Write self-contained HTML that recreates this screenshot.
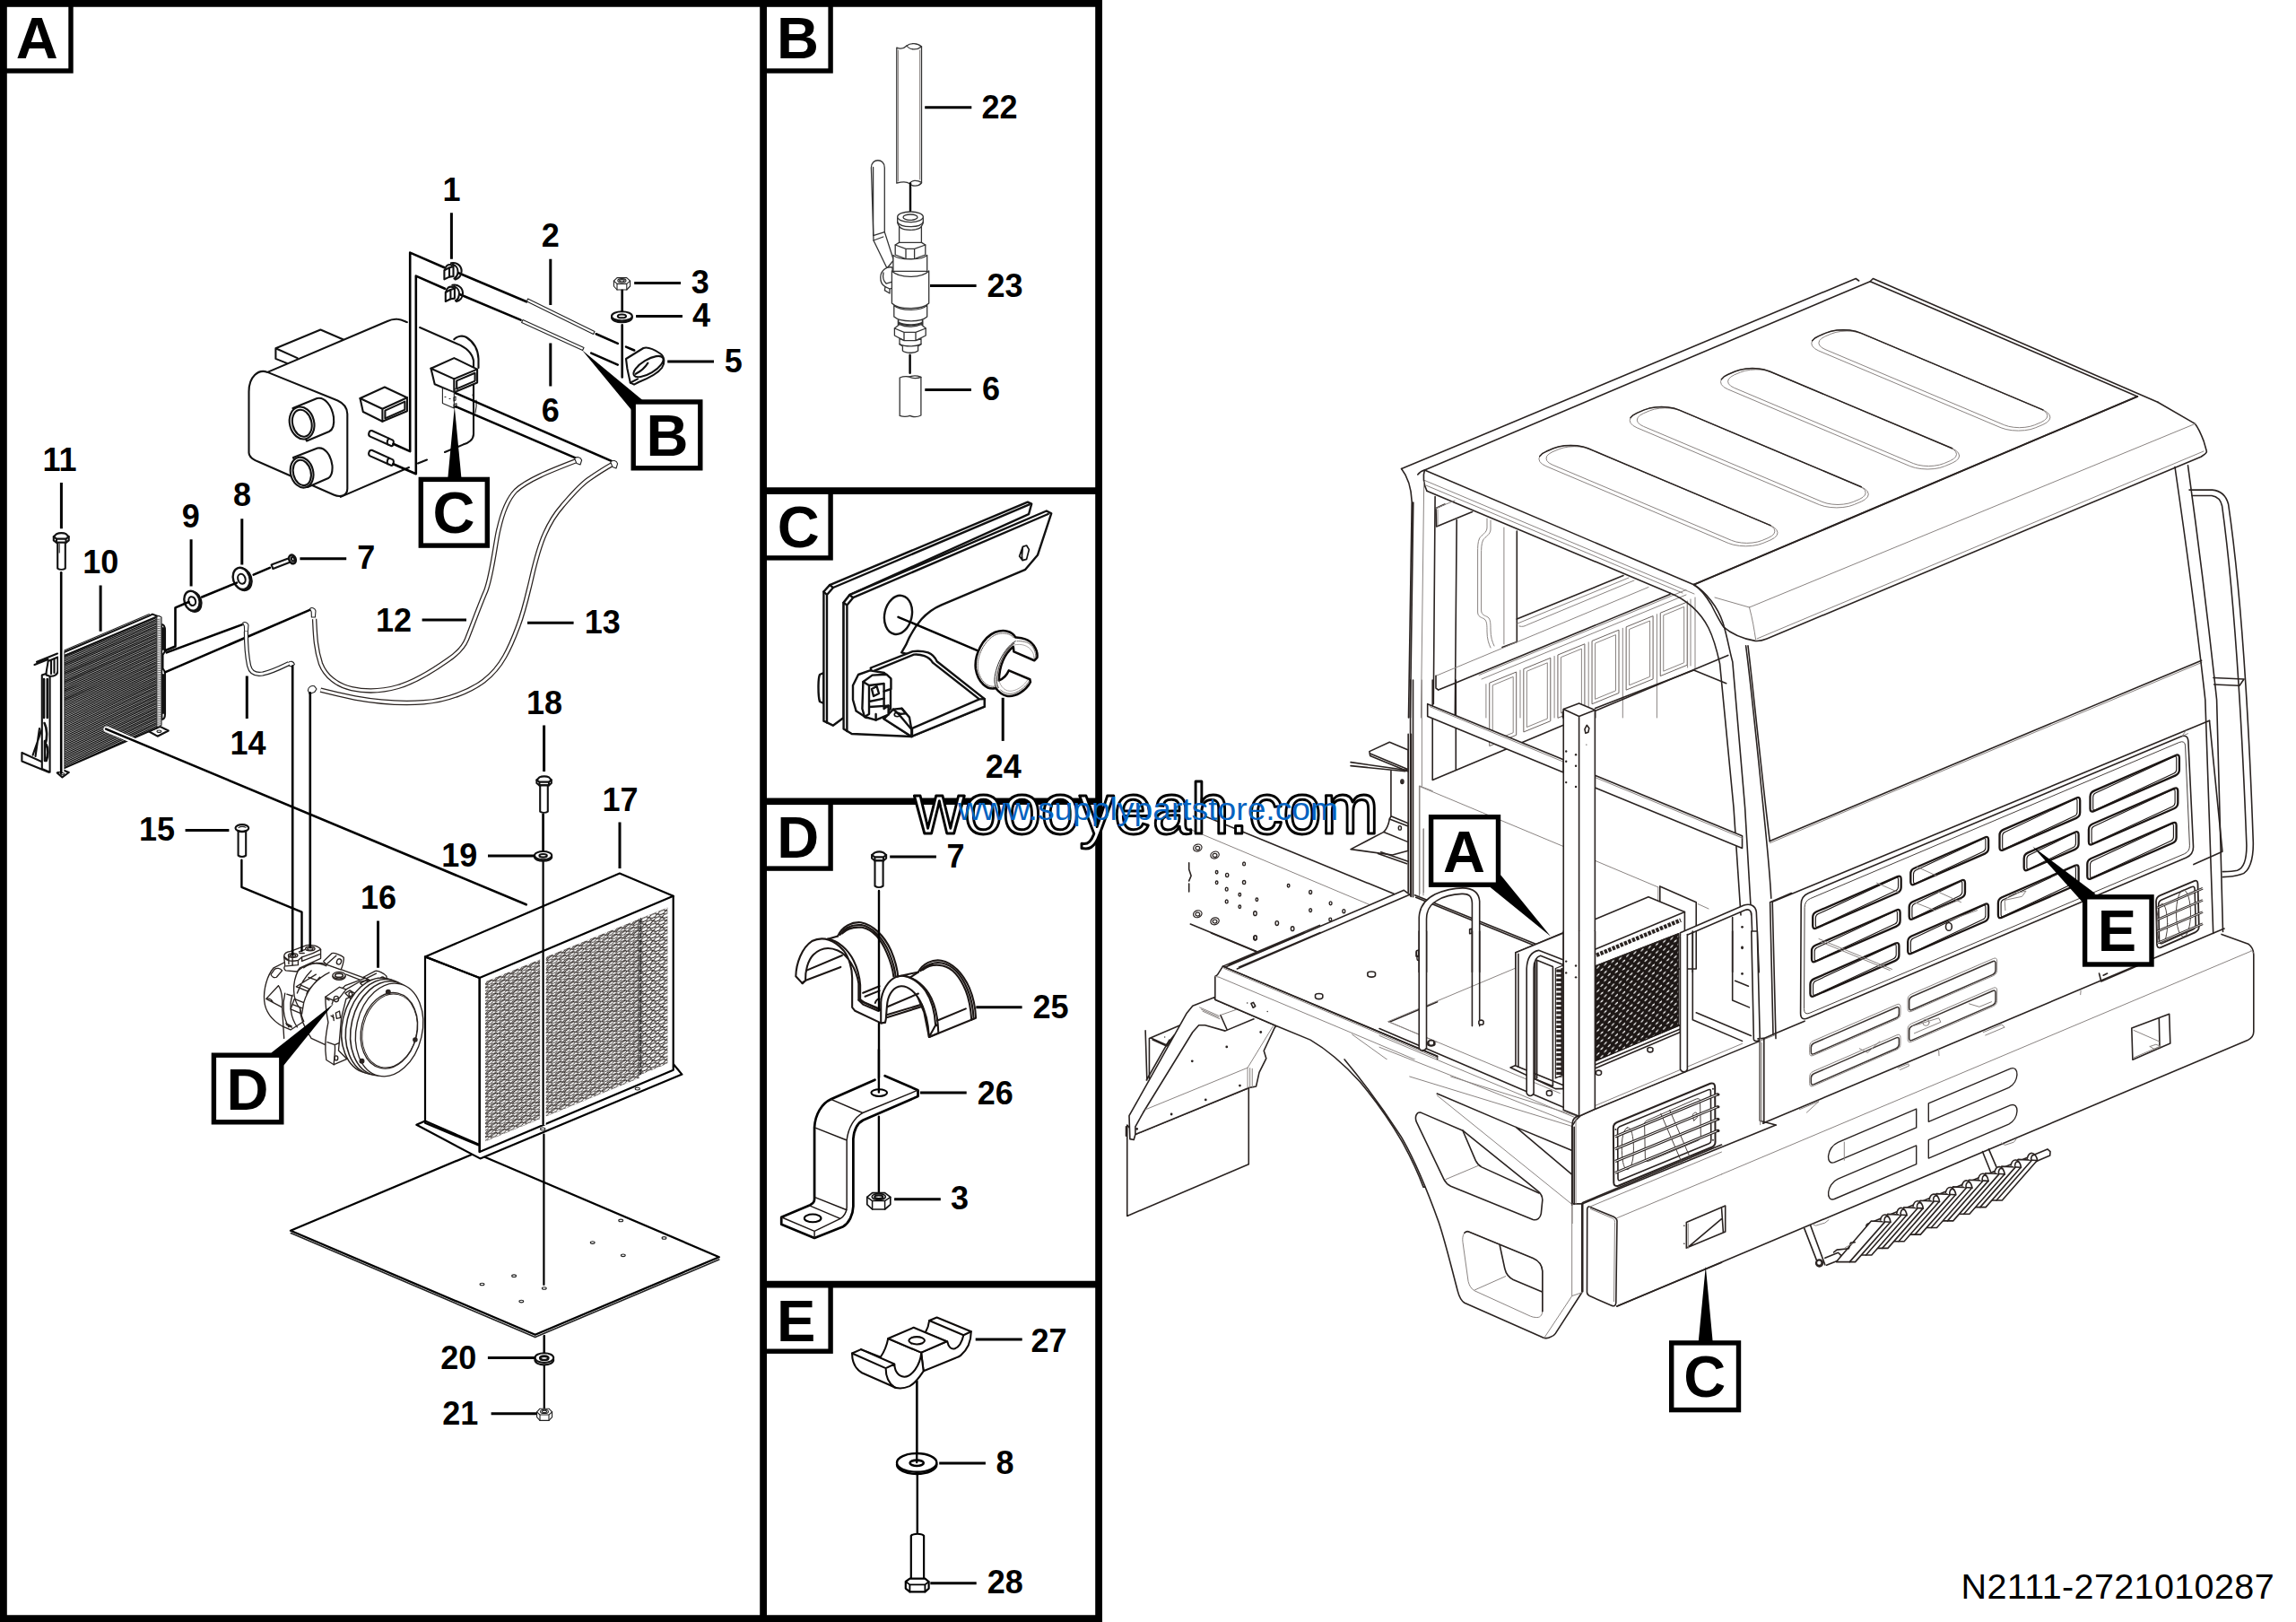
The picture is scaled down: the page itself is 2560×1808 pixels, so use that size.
<!DOCTYPE html>
<html lang="en"><head><meta charset="utf-8"><title>N2111-2721010287</title>
<style>
html,body{margin:0;padding:0;background:#fff;}
body{width:2560px;height:1808px;overflow:hidden;}
svg{display:block;font-family:"Liberation Sans",Arial,sans-serif;}
.k{stroke:#000;stroke-width:3;fill:none;stroke-linecap:butt}
.m{stroke:#111;stroke-width:2.1;fill:none;stroke-linejoin:round;stroke-linecap:round}
.mw{stroke:#111;stroke-width:2.1;fill:#fff;stroke-linejoin:round;stroke-linecap:round}
.n{stroke:#222;stroke-width:1.1;fill:none;stroke-linejoin:round;stroke-linecap:round}
.nw{stroke:#222;stroke-width:1.1;fill:#fff;stroke-linejoin:round;stroke-linecap:round}
.h{stroke:#333;stroke-width:1.3;fill:none;stroke-linejoin:round;stroke-linecap:round}
.hw{stroke:#333;stroke-width:1.3;fill:#fff;stroke-linejoin:round;stroke-linecap:round}
.g{stroke:#8a8482;stroke-width:1;fill:none;stroke-linejoin:round;stroke-linecap:round}
.gw{stroke:#8a8482;stroke-width:1;fill:#fff;stroke-linejoin:round;stroke-linecap:round}
.d{stroke:#2a2321;stroke-width:1.6;fill:none;stroke-linejoin:round;stroke-linecap:round}
.dw{stroke:#2a2321;stroke-width:1.6;fill:#fff;stroke-linejoin:round;stroke-linecap:round}
.b{stroke:#000;stroke-width:2.6;fill:none;stroke-linejoin:round;stroke-linecap:round}
.bw{stroke:#000;stroke-width:2.6;fill:#fff;stroke-linejoin:round;stroke-linecap:round}
.num{font-weight:700;font-size:36px;text-anchor:middle;fill:#000}
.let{font-weight:700;font-size:65px;text-anchor:middle;fill:#000}
.box{fill:#fff;stroke:#000;stroke-width:5.4}
.blk{fill:#000;stroke:none}
#panelC .m,#panelC .mw{stroke-width:2.4px}
</style></head><body>
<svg xmlns="http://www.w3.org/2000/svg" width="2560" height="1808" viewBox="0 0 2560 1808">
<rect width="2560" height="1808" fill="#fff"/>
<!-- 00_frame.svgf -->
<g id="frame">
<path class="blk" fill-rule="evenodd" d="M0 0H1229V1808H0Z M7.8 7.8V1800.3H847.2V7.8Z M855 7.8V543.2H1221.2V7.8Z M855 550.9V889.4H1221.2V550.9Z M855 897.1V1427.8H1221.2V897.1Z M855 1435.5V1800.3H1221.2V1435.5Z"/>
<rect class="box" x="5.1" y="5.1" width="73.9" height="73.9"/>
<rect class="box" x="852.3" y="5.1" width="73.8" height="73.9"/>
<rect class="box" x="852.3" y="548.2" width="73.8" height="73.7"/>
<rect class="box" x="852.3" y="894.4" width="73.8" height="73.7"/>
<rect class="box" x="852.3" y="1432.8" width="73.8" height="73.4"/>
<text class="let" x="41.2" y="65">A</text>
<text class="let" x="889.6" y="65">B</text>
<text class="let" x="890.2" y="609.8">C</text>
<text class="let" x="889.8" y="956.2">D</text>
<text class="let" x="887.6" y="1494.9">E</text>
</g>

<!-- 10_A_hvac.svgf -->
<g id="A_hvac">
<!-- back round duct -->
<path class="m" d="M506.3 378.3C510 374.5 516 373.5 520 376C528 381 533 390 533.5 400V410"/>
<!-- body top surface / right side -->
<path class="m" d="M298.3 414.9L431.4 358.3C436 356 440 355.5 443.1 355.8C447 356 450 357.5 453.9 359.1"/>
<path class="m" d="M468.1 365L509.7 383.3C519 387 526 392 528 402V484C528 490 522 494 516.3 495.6L496 504"/>
<path class="m" d="M476 512.5L466 516.5 M456 521L379.8 553.9"/>
<!-- front face rounded -->
<path class="mw" d="M298.3 414.9C288 411 277.5 420 277.5 436.5V504.8C277.5 509 281 512 288.3 514.8L372 551.5C380 555 387.3 552 387.3 544.7V461.5C387.3 454 383 449.5 376.5 446.5Z"/>
<!-- small box top-left -->
<path class="m" d="M331.6 399.1L307.4 388.3L357.4 367.5L382.3 378.3 M307.4 388.3V399.9L319.9 404.9"/>
<!-- upper port cylinder -->
<path class="mw" d="M326.5 455L353.5 444C362 442 370 452 372 465C373 474 371 479 367 481L342 491.5Z"/>
<ellipse class="mw" cx="336.6" cy="471.5" rx="13.6" ry="18.2" transform="rotate(-14 336.6 471.5)"/>
<ellipse class="m" cx="336.8" cy="471.8" rx="10.6" ry="15.2" transform="rotate(-14 336.8 471.8)"/>
<!-- lower port cylinder -->
<path class="mw" d="M327 510L354 499.5C362 498 369 507 370.5 519C371 527 369.5 531 366 533L343 543Z"/>
<ellipse class="mw" cx="336.6" cy="526.6" rx="12.6" ry="17.2" transform="rotate(-14 336.6 526.6)"/>
<ellipse class="m" cx="336.8" cy="526.9" rx="9.8" ry="14.4" transform="rotate(-14 336.8 526.9)"/>
<!-- vent box 1 -->
<path class="mw" d="M401.5 444L428.9 431.5L453.9 443.2V458.2L426.4 469.8L404.8 459Z"/>
<path class="m" d="M401.5 444L426.4 455.7L453.9 443.2 M426.4 455.7V469.8 M429.4 457.6L451.4 447.6V456.6L429.4 466.4Z"/>
<!-- vent box 2 -->
<path class="mw" d="M480.5 410.7L506.3 399.1L532.1 411.6V426.5L506.3 437.4L484.7 428.2Z"/>
<path class="m" d="M480.5 410.7L506.3 422.4L532.1 411.6 M506.3 422.4V437.4 M509.2 424.4L529.6 415.8V424.6L509.2 433.4Z"/>
<!-- bracket plate under vent box 2 -->
<path class="nw" d="M493.4 432.5V449.5L506.3 455V437.4Z"/>
<path class="n" d="M496 442.5h1 M501 444.5h1 M507 433.5l3-1.3v3.5l-3 1.3z M506 443l2-1v4l-2 1z M506 451l3-1.3v3.5l-3 1.3z"/>
<path class="n" d="M527 440C529 446 528.5 452 527.5 457 M531 446C531.6 452 531 456 530 460"/>
<!-- small pipes -->
<path class="mw" d="M414.6 480L438 490.6C439.6 491.6 438.8 497 436.6 497.2L412.8 486.6C409.6 485 411.6 479.4 414.6 480Z"/>
<path class="m" d="M433.6 488.8C431.6 490.6 431.2 494 432.4 495.4"/>
<path class="mw" d="M414.6 501.8L438 512.4C439.6 513.4 438.8 518.8 436.6 519L412.8 508.4C409.6 506.8 411.6 501.2 414.6 501.8Z"/>
<path class="m" d="M433.6 510.6C431.6 512.4 431.2 515.8 432.4 517.2"/>
</g>
<g id="A_lines1">
<!-- long vertical routing lines -->
<path class="b" d="M438.5 494.8L457.2 503.1V281.6L495.5 298.2"/>
<path class="b" d="M438.5 517.2L463.8 528.2V307.6L496 321.8"/>
<!-- lines from clips to hoses -->
<path class="b" d="M511.2 304.3L587 336.3 M664.7 372.3L688.8 382.9 M698 386.6L707.2 390.5"/>
<path class="b" d="M513 328.2L580.6 356.6 M659.2 393.6L688.8 406.6"/>
<!-- hose segments 2 / 6 -->
<path class="nw" d="M588.6 333L663 369.6L661.6 372.6L587.4 336Z"/>
<path class="nw" d="M583 356.4L651 387.6L649.6 390.6L581.6 359.4Z"/>
<!-- lines from bracket C to hose fittings -->
<path class="b" d="M508 438.2L682.3 514.1 M508 453.2L642.1 510.6"/>
<!-- nut 3 -->
<path class="nw" d="M684.4 313.2L688 309.6H698.8L702.6 313.2V319L698.8 323H688L684.4 319Z"/>
<path class="n" d="M684.4 313.2L688 316.4H698.8L702.6 313.2 M688 316.4V323 M698.8 316.4V323"/>
<ellipse class="n" cx="693.4" cy="312.8" rx="4.6" ry="2.2"/>
<ellipse class="n" cx="693.4" cy="312.8" rx="2.8" ry="1.2"/>
<!-- washer 4 -->
<ellipse class="mw" cx="693.4" cy="354" rx="11.4" ry="5.2"/>
<ellipse class="mw" cx="693.4" cy="352.4" rx="11.4" ry="5.2"/>
<ellipse class="m" cx="693.4" cy="352.4" rx="4.6" ry="1.9"/>
<path class="b" d="M693.7 323.8V347 M693.7 362.4V420.4"/>
<!-- clip 5 -->
<path class="mw" d="M698 400L717.4 388C722 386.4 730 390 736 394C741.4 397.6 741.4 405 738 410C733 417 722 422 712 426L707 428.6L702.8 426.6L699.4 411Z"/>
<ellipse class="mw" cx="723" cy="408.6" rx="18.8" ry="7.6" transform="rotate(-31 723 408.6)"/>
<path class="m" d="M708.8 416.8C713 414.6 719 410 722.4 404.6 M702.8 426.6L711 422.4"/>
<!-- clips 1 -->
<g id="clip1">
<path class="mw" d="M495.4 301.2L501 298.4V308.6L495.4 311.4Z"/>
<path class="m" d="M496 301C496.5 296 500 294 503.5 295.5 M503 293.2C509 292 514.5 296 514.6 302C514.7 307 511.5 310.5 507.5 311.5 M505 295C509 296 511 300 510.4 304.5C510 307.5 508.5 309.5 506.5 310.5 M501 298.4L505.5 297V308L501 308.6"/>
</g>
<use href="#clip1" x="1.4" y="24.6"/>
</g>
<g id="A_calloutBC">
<path class="blk" d="M649 390.3L717 446.5L704.5 457.5Z"/>
<rect class="box" x="706.2" y="448" width="74.6" height="73.8"/>
<text class="let" x="744" y="508.2">B</text>
<path class="blk" d="M506.8 453.2L514.4 532.5H499.4Z"/>
<rect class="box" x="469.3" y="534.4" width="74" height="73.7"/>
<text class="let" x="506" y="594.4">C</text>
</g>

<!-- 11_A_cond.svgf -->
<g id="A_cond">
<path class="mw" d="M24.4 839L54.3 852.6V860.7L24.4 848.5Z"/>
<path class="m" d="M47.5 810.5L36.6 841.7 M44 812L39.5 843"/>
<path class="mw" d="M46.8 752.5L55.6 749.5V860.7L46.8 857Z"/>
<path class="m" style="stroke-width:2.6" d="M49 757V800 M52.8 757V800 M49.6 806C52.6 812 53 822 50.4 830 M50 826V848 M51.6 830C54 834 54 842 51.6 848"/>
<path class="mw" d="M53.6 737L64.4 732.5V748C64.4 752 60 754.5 55 753.6L51.6 752.6C51 748 53 744 53.6 737Z"/>
<path class="m" d="M57 736V751 M60.5 734.5V750 M38.5 741L53.6 735 M41 737.8L64 728.5"/>
<path class="mw" d="M63.7 861.4L70.6 858.6L76.8 861L69.4 866.4Z"/>
<ellipse class="n" cx="69.6" cy="862.6" rx="2.2" ry="1.1"/>
<path class="mw" d="M180 696C183 696 184 699 184 703V726L181.5 730V745L184 749V796C184 800 183 802 180.4 802Z"/>
<path class="m" d="M182 700V724 M182 752V795"/>
<path class="mw" d="M165.5 815L178.5 809.9L187.8 814.5L175.6 820.7Z"/>
<ellipse class="n" cx="177.4" cy="815.2" rx="2.4" ry="1.2"/>
<path d="M71.2 727.2L175.2 686.2L175.2 810.5L71.2 855.8Z" fill="#fff" stroke="none"/>
<path class="mw" d="M70.2 727.5L166 686.6L170 684.6L176 687L71.2 731.2Z"/>
<path class="n" d="M70.4 725.4L166.4 684.6"/>
<path d="M71.6 731.00L174.6 688.40M71.6 732.95L174.6 690.29M71.6 734.90L174.6 692.18M71.6 736.85L174.6 694.07M71.6 738.80L174.6 695.96M71.6 740.75L174.6 697.85M71.6 742.70L174.6 699.73M71.6 744.65L174.6 701.62M71.6 746.60L174.6 703.51M71.6 748.55L174.6 705.40M71.6 750.50L174.6 707.29M71.6 752.45L174.6 709.18M71.6 754.40L174.6 711.07M71.6 756.35L174.6 712.96M71.6 758.30L174.6 714.85M71.6 760.25L174.6 716.74M71.6 762.20L174.6 718.62M71.6 764.15L174.6 720.51M71.6 766.10L174.6 722.40M71.6 768.05L174.6 724.29M71.6 770.00L174.6 726.18M71.6 771.95L174.6 728.07M71.6 773.90L174.6 729.96M71.6 775.85L174.6 731.85M71.6 777.80L174.6 733.74M71.6 779.75L174.6 735.63M71.6 781.70L174.6 737.52M71.6 783.65L174.6 739.40M71.6 785.60L174.6 741.29M71.6 787.55L174.6 743.18M71.6 789.50L174.6 745.07M71.6 791.45L174.6 746.96M71.6 793.40L174.6 748.85M71.6 795.35L174.6 750.74M71.6 797.30L174.6 752.63M71.6 799.25L174.6 754.52M71.6 801.20L174.6 756.41M71.6 803.15L174.6 758.30M71.6 805.10L174.6 760.18M71.6 807.05L174.6 762.07M71.6 809.00L174.6 763.96M71.6 810.95L174.6 765.85M71.6 812.90L174.6 767.74M71.6 814.85L174.6 769.63M71.6 816.80L174.6 771.52M71.6 818.75L174.6 773.41M71.6 820.70L174.6 775.30M71.6 822.65L174.6 777.19M71.6 824.60L174.6 779.07M71.6 826.55L174.6 780.96M71.6 828.50L174.6 782.85M71.6 830.45L174.6 784.74M71.6 832.40L174.6 786.63M71.6 834.35L174.6 788.52M71.6 836.30L174.6 790.41M71.6 838.25L174.6 792.30M71.6 840.20L174.6 794.19M71.6 842.15L174.6 796.08M71.6 844.10L174.6 797.97M71.6 846.05L174.6 799.85M71.6 848.00L174.6 801.74M71.6 849.95L174.6 803.63M71.6 851.90L174.6 805.52M71.6 853.85L174.6 807.41M71.6 855.80L174.6 809.30" stroke="#141414" stroke-width="1.36" fill="none"/>
<path d="M174.8 687.2L177 686.4L180 688V808.2L177 810L174.8 810.8Z" fill="#fff" stroke="#222" stroke-width="1.2"/>
<path d="M175.2 690.5L179.6 689.9M175.2 692.5L179.6 691.9M175.2 694.6L179.6 694.0M175.2 696.6L179.6 696.0M175.2 698.7L179.6 698.1M175.2 700.7L179.6 700.1M175.2 702.8L179.6 702.2M175.2 704.8L179.6 704.2M175.2 706.9L179.6 706.3M175.2 708.9L179.6 708.3M175.2 711.0L179.6 710.4M175.2 713.0L179.6 712.4M175.2 715.1L179.6 714.5M175.2 717.1L179.6 716.5M175.2 719.2L179.6 718.6M175.2 721.2L179.6 720.6M175.2 723.3L179.6 722.7M175.2 725.3L179.6 724.7M175.2 727.4L179.6 726.8M175.2 729.4L179.6 728.8M175.2 731.5L179.6 730.9M175.2 733.5L179.6 732.9M175.2 735.6L179.6 735.0M175.2 737.6L179.6 737.0M175.2 739.7L179.6 739.1M175.2 741.7L179.6 741.1M175.2 743.8L179.6 743.2M175.2 745.8L179.6 745.2M175.2 747.9L179.6 747.3M175.2 749.9L179.6 749.3M175.2 752.0L179.6 751.4M175.2 754.0L179.6 753.4M175.2 756.1L179.6 755.5M175.2 758.1L179.6 757.5M175.2 760.2L179.6 759.6M175.2 762.2L179.6 761.6M175.2 764.3L179.6 763.7M175.2 766.3L179.6 765.7M175.2 768.4L179.6 767.8M175.2 770.4L179.6 769.8M175.2 772.5L179.6 771.9M175.2 774.5L179.6 773.9M175.2 776.6L179.6 776.0M175.2 778.6L179.6 778.0M175.2 780.7L179.6 780.1M175.2 782.7L179.6 782.1M175.2 784.8L179.6 784.2M175.2 786.8L179.6 786.2M175.2 788.9L179.6 788.3M175.2 790.9L179.6 790.3M175.2 793.0L179.6 792.4M175.2 795.0L179.6 794.4M175.2 797.1L179.6 796.5M175.2 799.1L179.6 798.5M175.2 801.2L179.6 800.6M175.2 803.2L179.6 802.6M175.2 805.3L179.6 804.7M175.2 807.3L179.6 806.7M175.2 809.4L179.6 808.8" stroke="#555" stroke-width=".9" fill="none"/>
<path class="m" d="M71.2 727.2V856.4L175.2 811.2"/>
</g>
<g id="A_condlines">
<path class="mw" d="M59.8 598.2L63 595.2C66 593.8 71 593.8 73.6 595.2L76.7 598.2V602.4L73.6 604.8H63L59.8 602.4Z"/>
<path class="m" d="M59.8 598.2L63 600.6H73.6L76.7 598.2 M63 600.6V604.8 M73.6 600.6V604.8"/>
<path class="mw" d="M64.2 604.8H72.8V633.6C70.4 635.2 66.6 635.2 64.2 633.6Z"/>
<path class="n" d="M66.2 606V616"/>
<path d="M68.2 724V860" stroke="#fff" stroke-width="6.4" fill="none"/>
<path class="b" d="M68.2 638.2V861.6"/>
<path d="M118.6 812.8L176 837.2" stroke="#fff" stroke-width="6.4" fill="none" stroke-linecap="round"/>
<path class="b" d="M118.2 812.6L586.7 1008.3"/>
<ellipse class="mw" cx="215.8" cy="670.7" rx="8.4" ry="11.2" transform="rotate(-18 215.8 670.7)" style="stroke-width:2.4"/>
<ellipse class="mw" cx="214.0" cy="669.8" rx="8.4" ry="11.2" transform="rotate(-18 214.0 669.8)" style="stroke-width:2.4"/>
<ellipse class="m" cx="214.2" cy="670.1" rx="3.8" ry="5.0" transform="rotate(-18 214.2 670.1)"/>
<ellipse class="mw" cx="271.0" cy="645.8" rx="9.2" ry="12.4" transform="rotate(-18 271.0 645.8)" style="stroke-width:2.4"/>
<ellipse class="mw" cx="269.2" cy="644.9" rx="9.2" ry="12.4" transform="rotate(-18 269.2 644.9)" style="stroke-width:2.4"/>
<ellipse class="m" cx="269.4" cy="645.2" rx="4.1" ry="5.6" transform="rotate(-18 269.4 645.2)"/>
<path class="b" d="M225.2 665.5L264 649.6 M282.7 640.6L300.9 632.9 M210.4 671L195.5 677.4V720.5L184 725.3"/>
<path class="mw" d="M302.6 629.6L322 622.2L323.8 626.4L304.4 634Z"/>
<ellipse class="mw" cx="326" cy="623.4" rx="3.6" ry="5" transform="rotate(-20 326 623.4)" style="stroke-width:2.6"/>
<ellipse class="m" cx="326.6" cy="623.2" rx="1.6" ry="2.4" transform="rotate(-20 326.6 623.2)"/>
<path class="b" d="M185.8 727.4L269.6 696.4 M184 749.4L346 679.6"/>
<path class="nw" d="M270.6 694.4C272.6 692.6 276 693.6 277 696.6L276.4 704H272.6L272.4 698Z"/>
<path class="nw" d="M345.4 678.6C347.4 676.6 351 677.6 352 680.8L351.4 688H347.4L347.2 682Z"/>
<path class="nw" d="M321.4 738.6C323.4 736.2 327.6 737 328.4 740.6L325 743L321.6 741.8Z"/>
<path class="nw" d="M343.4 769.6C343.6 766 347 763.6 350.6 764.8L353 768L350.6 771.6L345 773.4Z"/>
<path d="M274.4 704C274.4 716 275 730 277.6 742C279.6 750.6 286 752.2 293 751C303 749 313 744 322 739.6" stroke="#222" stroke-width="5.2" fill="none" stroke-linecap="butt"/>
<path d="M274.4 704C274.4 716 275 730 277.6 742C279.6 750.6 286 752.2 293 751C303 749 313 744 322 739.6" stroke="#fff" stroke-width="2.8" fill="none" stroke-linecap="butt"/>
</g>
<!-- 12_A_comp.svgf -->
<g id="A_comp" transform="translate(280 1040) scale(0.10482)">
<g fill="none" stroke="#2a2320" stroke-width="13" stroke-linejoin="round" stroke-linecap="round">
<!-- rear cap -->
<path fill="#fff" d="M240 370C170 450 130 600 140 720C150 830 210 920 330 990L420 1030L560 940L700 520L560 330L360 310Z"/>
<path d="M290 560L160 700L330 790 M160 700C180 690 210 700 230 730 M330 790C340 700 320 600 290 560 M330 790L350 1120 M210 440C220 470 250 480 270 470L330 400C310 370 270 370 250 385Z"/>
<path d="M360 640C330 760 340 900 400 1000 M440 660C400 760 420 900 490 1000 M370 960L430 990 M375 975L432 1003 M380 650L440 670"/>
<!-- main body -->
<path fill="#fff" d="M500 400C580 330 700 300 800 330L1210 480L1000 560C900 640 850 800 860 960L790 1190L640 1120C560 1000 520 900 520 800C430 700 440 520 500 400Z"/>
<path d="M640 400C560 480 520 560 490 640 M690 440L480 570L600 620L730 470 M610 470L690 500 M600 620L590 650 M540 560L610 590 M460 700L560 740L540 860L420 810Z M440 760L548 800 M560 740C600 600 700 480 830 420"/>
<path d="M520 800C530 860 540 900 560 940"/>
<!-- rear ear -->
<path fill="#fff" d="M770 300L860 215C880 205 960 235 985 260C990 290 970 360 955 390L800 335Z"/>
<ellipse cx="935" cy="305" rx="24" ry="30" transform="rotate(20 935 305)"/>
<path d="M800 335L905 240"/>
<!-- port manifold -->
<path fill="#fff" d="M350 250C350 220 380 200 420 195L590 130C640 120 720 140 740 175V270L520 370L490 410L370 400C350 390 345 370 360 350Z"/>
<path d="M350 250C360 290 420 310 500 290L540 255C600 235 650 225 740 175 M500 290V340L370 352 M540 255V300L730 225 M400 240V330 M440 250V340 M390 285L350 250"/>
<ellipse cx="445" cy="238" rx="50" ry="22"/><ellipse cx="445" cy="240" rx="30" ry="12"/>
<ellipse cx="628" cy="168" rx="50" ry="22"/><ellipse cx="628" cy="170" rx="30" ry="12"/>
<path d="M510 200L570 178 M515 215H565"/>
<path d="M650 320C700 320 760 330 800 350 M560 370C600 340 640 325 700 318"/>
<!-- oil plug -->
<ellipse fill="#fff" cx="935" cy="462" rx="68" ry="36"/><ellipse cx="935" cy="450" rx="68" ry="36" fill="#fff"/><ellipse cx="935" cy="450" rx="42" ry="20" stroke-width="16"/>
<path d="M1010 440L1150 495"/>
<!-- front mounting flange -->
<path fill="#fff" d="M790 680L940 575L1010 600L1150 520L1300 490V560L1010 700L960 900L930 1250L1020 1340L880 1400L800 1350C780 1200 790 1100 820 950C800 850 790 760 790 680Z"/>
<path d="M790 680L870 715L940 690L1010 600 M870 715C870 730 865 745 860 755 M810 1160L890 1190C900 1260 880 1340 880 1400 M890 1190L935 1170 M800 700L830 715"/>
<ellipse cx="905" cy="702" rx="26" ry="30"/>
<ellipse cx="905" cy="1330" rx="18" ry="24"/>
<path d="M1000 640L1050 610L1100 640L1060 700Z M1040 650a18 22 0 1 0 36 0a18 22 0 1 0-36 0 M900 850L940 830L950 900L910 910Z M850 880L880 900 M870 870L880 930"/>
<!-- top ear -->
<path fill="#fff" d="M1195 470L1320 405C1350 395 1420 430 1440 460C1445 500 1440 540 1430 560L1300 520Z"/>
<ellipse cx="1398" cy="495" rx="22" ry="27"/>
<path d="M1195 470L1300 520 M1230 480L1330 430 M1160 535L1230 500L1250 530L1190 560Z M1310 500L1350 480L1370 520"/>
<!-- pulley grooves -->
<g stroke-width="15">
<ellipse fill="#fff" cx="1330" cy="985" rx="360" ry="515" transform="rotate(13.3 1330 985)"/>
<ellipse fill="#fff" cx="1375" cy="1000" rx="360" ry="515" transform="rotate(13.3 1375 1000)"/>
<ellipse fill="#fff" cx="1420" cy="1015" rx="355" ry="508" transform="rotate(13.3 1420 1015)"/>
</g>
<ellipse fill="#fff" cx="1470" cy="1030" rx="350" ry="501" transform="rotate(13.3 1470 1030)"/>
<ellipse cx="1468" cy="1038" rx="296" ry="408" transform="rotate(13.3 1468 1038)"/>
<ellipse cx="1474" cy="1040" rx="286" ry="396" transform="rotate(13.3 1474 1040)" stroke-width="9"/>
<circle cx="1458" cy="628" r="22" fill="#2a2320"/><circle cx="1745" cy="1135" r="20" fill="#2a2320"/><circle cx="1178" cy="1362" r="22" fill="#2a2320"/>
</g>
</g>

<!-- 13_A_box.svgf -->
<defs>
<pattern id="meshD" width="9.6" height="11.1" patternUnits="userSpaceOnUse" patternTransform="translate(541 1094.2) skewY(-22.15)">
<rect width="9.6" height="11.1" fill="#fff"/>
<g fill="none" stroke="#2a2320" stroke-width="1.0">
<path d="M0.3 2.8L2.6 .7H7L9.3 2.8L7 4.9H2.6Z M-4.5 8.35L-2.2 6.25H2.2L4.5 8.35L2.2 10.45H-2.2Z M5.1 8.35L7.4 6.25H11.8L14.1 8.35L11.8 10.45H7.4Z"/>
<path d="M1.6 4.2C3 2.2 6 1.4 8 1.6 M-3.2 9.75C-1.8 7.75 1.2 6.95 3.2 7.15 M6.4 9.75C7.8 7.75 10.8 6.95 12.8 7.15" stroke-width="1.1"/>
</g>
</pattern>
<pattern id="meshL" width="9.6" height="11.1" patternUnits="userSpaceOnUse" patternTransform="translate(541 1094.2) skewY(-22.15)">
<rect width="9.6" height="11.1" fill="#fff"/>
<g fill="none" stroke="#2a2320" stroke-width="1.15">
<path d="M0.3 2.8L2.6 .7H7L9.3 2.8L7 4.9H2.6Z M-4.5 8.35L-2.2 6.25H2.2L4.5 8.35L2.2 10.45H-2.2Z M5.1 8.35L7.4 6.25H11.8L14.1 8.35L11.8 10.45H7.4Z"/>
</g>
</pattern>
</defs>
<g id="A_box17">
<!-- bottom plate -->
<path class="bw" style="stroke-width:2.3" d="M324 1371.8L530 1285.2L801.8 1401.2L596.7 1487.8Z"/>
<path class="n" d="M324.4 1374.6L596.7 1490.6L801.8 1404" style="stroke-width:1.6"/>
<g class="n" fill="#fff">
<ellipse cx="692.2" cy="1360.4" rx="2.4" ry="1.3"/><ellipse cx="740.5" cy="1379.9" rx="2.4" ry="1.3"/><ellipse cx="660.7" cy="1385.1" rx="2.4" ry="1.3"/><ellipse cx="694.8" cy="1399.3" rx="2.4" ry="1.3"/><ellipse cx="573.1" cy="1422.2" rx="2.4" ry="1.3"/><ellipse cx="537.5" cy="1431.5" rx="2.4" ry="1.3"/><ellipse cx="606.8" cy="1436" rx="2.4" ry="1.3"/><ellipse cx="581.3" cy="1450.6" rx="2.4" ry="1.3"/>
</g>
<!-- flange -->
<path class="bw" style="stroke-width:2.2" d="M464.4 1253.8L474 1249.6L534.7 1276L750.7 1186L760.4 1197.6L535.4 1291.4Z"/>
<!-- box faces -->
<path class="bw" style="stroke-width:2.2" d="M474 1066.4L690.9 973.6L750.7 998.8V1192.8L534.7 1284V1090Z"/>
<path class="b" style="stroke-width:2.2" d="M474 1066.4L534.7 1090L750.7 998.8 M534.7 1090V1284 M474 1066.4V1251.8L534.7 1277"/>
<!-- mesh -->
<path d="M541 1094.2L712.9 1024.2V1201.8L541 1272.4Z" fill="url(#meshD)"/>
<path d="M712.9 1024.2L744.4 1011.4V1185.4L712.9 1198.4Z" fill="url(#meshL)"/>
<path class="n" d="M712.9 1024.2V1198.4 M714.6 1023.6V1197.8" stroke-dasharray="6 2"/>
<ellipse class="n" cx="710.8" cy="1213.6" rx="2.6" ry="1.4"/>
<ellipse class="n" cx="605.2" cy="1258.4" rx="2.6" ry="1.4"/>
<!-- bolt 18 line w/ halo -->
<path d="M605.4 1064V1254" stroke="#fff" stroke-width="6.5" fill="none"/>
<path class="b" d="M605.6 907.5V1254 M606.4 1264.5V1432 M606.8 1489V1507.4 M606.8 1522V1570" style="stroke-width:2.2"/>
<!-- bolt 18 -->
<path class="mw" d="M598.4 869.4L601.4 866.4C604.4 865 609.4 865 612 866.4L614.8 869.4V873L612 875.4H601.4L598.4 873Z"/>
<path class="m" d="M598.4 869.4L601.4 871.6H612L614.8 869.4 M601.4 871.6V875.4 M612 871.6V875.4"/>
<path class="mw" d="M602.2 875.4H610.8V904.6C608.4 906.2 604.6 906.2 602.2 904.6Z"/>
<!-- washer 19 -->
<ellipse class="mw" cx="605.6" cy="955.2" rx="9.6" ry="4.6"/>
<ellipse class="mw" cx="605.6" cy="953.6" rx="9.6" ry="4.6"/>
<ellipse class="m" cx="605.6" cy="953.8" rx="4.2" ry="1.8"/>
<path class="b" d="M605.6 907.5V949" style="stroke-width:2.2"/>
<!-- washer 20 -->
<ellipse class="mw" cx="606.8" cy="1516" rx="10.4" ry="5.4"/>
<ellipse class="mw" cx="606.8" cy="1513.6" rx="10.4" ry="5.4"/>
<ellipse class="m" cx="606.8" cy="1513.8" rx="4.6" ry="2.2" style="stroke-width:2.6"/>
<path class="b" d="M606.8 1489V1508" style="stroke-width:2.2"/>
<!-- nut 21 -->
<path class="nw" d="M598.6 1573.8L602 1570.2H612L615.6 1573.8V1579.6L612 1583.4H602L598.6 1579.6Z"/>
<path class="n" d="M598.6 1573.8L602 1577H612L615.6 1573.8 M602 1577V1583.4 M612 1577V1583.4"/>
<ellipse class="n" cx="607" cy="1573.4" rx="4.4" ry="2.1"/><ellipse class="n" cx="607" cy="1573.4" rx="2.6" ry="1.1"/>
</g>
<g id="A_hoses">
<!-- hoses 12 / 13 -->
<g fill="none" stroke="#2a2320" stroke-width="5.4">
<path id="h12" d="M350.6 690C351.4 706 351.6 722 357.5 739.7C363 754 376 764 392 767.6C410 771.6 430 769.4 443.7 765.5C462 760.4 482 748 499.3 735.8C511 728 516.6 722 520.4 712.8C526 699 535 674 541.5 659.2C549 640 553 600 556 590C560 572 566 556.4 575 547C588 535 612 525.4 642.6 513.6"/>
<path id="h13" d="M357.4 769.2C372 773 384 775.6 395.8 778C420 782.4 450 784.4 472.5 782.8C486 781.8 498 779 510.8 774.2C522 770 532 764.6 539.6 758.8C549 751.6 557 742 562.6 732C570 719 574 708 577.9 697.5C583 684 586 672 589.6 657C594 640 598 616 607.7 594.7C612 585 618 574 626.8 564.1C636 553.6 646 541 657.4 533.5C666 527.6 674 522.4 682.6 517.6"/>
</g>
<g fill="none" stroke="#fff" stroke-width="2.9">
<use href="#h12"/><use href="#h13"/>
</g>
<!-- fittings at upper ends -->
<path class="nw" d="M640.6 511C643 508.6 647.6 509.4 648.6 513L647 518L643 516.6Z M680.8 515C683 512.4 687.6 513.2 688.6 516.8L687 522L683 520.6Z"/>
<!-- vertical lines to compressor -->
<path class="b" d="M326.2 742.6V1064.4 M345.8 772.4V1055.6"/>
<!-- screw 15 -->
<ellipse class="mw" cx="269.9" cy="923" rx="7.4" ry="3.9"/>
<path class="n" d="M266 922.6C268 921 272 921 274 922.4"/>
<path class="mw" d="M265.6 926.2C268 927.6 272 927.6 274.2 926.2V953.6C272 955.4 268 955.4 265.6 953.6Z"/>
<path class="b" d="M269.4 958.8V988.8L336.5 1016.6V1059.8" style="stroke-width:2.4"/>
</g>
<g id="A_calloutD">
<path class="blk" d="M372 1118.7L316.4 1187.5L302.5 1173.6Z"/>
<rect class="box" x="238.4" y="1176.2" width="75.4" height="74.6"/>
<text class="let" x="276" y="1237.4">D</text>
</g>

<!-- 20_B.svgf -->
<g id="panelB">
<!-- hose 22 -->
<path class="hw" d="M999.8 53.1C1004 55 1008 54 1011 51C1015 47.6 1023 47.6 1027.5 52V204C1024 208 1017 208 1014 204.6C1010 201.6 1004 203 999.8 204.2Z"/>
<path class="h" d="M1011 51C1014 55.5 1022 56.5 1027.5 52 M1014.6 204.4C1016 201 1022 200 1027.5 203.4"/>
<path class="g" d="M1001.6 56V202 M1025.6 56V200"/>
<path class="b" d="M1015 204.5V236.4" style="stroke-width:2.4"/>
<!-- handle -->
<path class="hw" d="M971.4 187C971.4 176 986.3 176 986.3 187V258.6L996.4 290L989 299L974 268Z"/>
<path class="h" d="M973.6 186.5V262.6 M973.6 262.6L986.3 258.6 M974 268L984.8 264"/>
<path class="hw" d="M995 298C988 296.6 982 302 981.8 309C981.6 314 984 318 987 319.6L986.4 323.6L992 327V322L995.4 321Z"/>
<path class="h" d="M985 304C984 309 985.4 313.6 988 316L995 314 M987 319.6L992 322"/>
<!-- valve top barb -->
<path class="hw" d="M1000.7 241.8V248C1000.7 250 1002.6 251.6 1002.6 252.4V271H1027.4V252.4C1027.4 251.6 1029.3 250 1029.3 248V241.8Z"/>
<ellipse class="hw" cx="1015" cy="241.8" rx="14.3" ry="5.8"/>
<ellipse class="h" cx="1015" cy="242.2" rx="8" ry="3.2"/>
<path class="h" d="M1000.7 247.6C1004 254.4 1026 254.4 1029.3 247.6 M1002.6 252.4C1006 257.6 1024 257.6 1027.4 252.4"/>
<!-- hex nut 1 -->
<path class="hw" d="M998.2 273L1002.4 270.4H1027.6L1031.8 273V284L1019.6 288.6H1010L998.2 284Z"/>
<path class="h" d="M998.2 273L1010 277.4H1019.6L1031.8 273 M1010 277.4V288.6 M1019.6 277.4V288.6"/>
<!-- body -->
<path class="hw" d="M995.9 284.4C1002 290.4 1028 290.4 1033.7 284.4V302.4H995.9Z"/>
<path class="hw" d="M994.4 302C1002 310.4 1028 310.4 1035.7 302V338C1028 345.6 1002 345.6 994.4 338Z"/>
<path class="hw" d="M996.8 340.4C1004 347 1027 347 1033.7 340.4V353C1027 359.4 1004 359.4 996.8 353Z"/>
<path class="h" d="M1001.6 357V362C1006 365.6 1024 365.6 1028.6 362V357 M1002 359.6C1008 363 1022 363 1028.4 359.6" style="stroke-width:1.8"/>
<!-- lower hex nut -->
<path class="hw" d="M997.4 366L1003 361.6C1010 365 1020 365 1027 361.6L1032.2 366V374L1021 379.6H1008L997.4 374Z"/>
<path class="h" d="M997.4 366L1008 370.4H1021L1032.2 366 M1008 370.4V379.6 M1021 370.4V379.6"/>
<path class="hw" d="M1003 377.4V383.6L1006.4 386V391C1010 394 1020 394 1023.6 391V386L1027 383.6V377.6L1021 379.6H1008Z"/>
<path class="h" d="M1003 383.6C1009 386.6 1021 386.6 1027 383.6"/>
<path class="b" d="M1014.6 395.8V415.8" style="stroke-width:2.4"/>
<!-- hose piece 6 -->
<path class="hw" d="M1003.2 421C1007 419.4 1011 419.4 1014 420C1018 418.6 1023 418.8 1026.9 420.4V463C1023 465 1018 465 1014.6 463.4C1011 464.6 1007 464.6 1003.2 463.4Z"/>
<path class="h" d="M1014 420C1017 422 1023 422 1026.9 420.4"/>
<text class="num" x="1114.5" y="132">22</text>
<text class="num" x="1120.6" y="331.2">23</text>
<text class="num" x="1105" y="446.3">6</text>
<path class="k" d="M1031.2 119.7H1083.3 M1037 318.4H1088.6 M1031.3 434.4H1082.9"/>
</g>

<!-- 21_C.svgf -->
<g id="panelC">
<!-- bolt head far left -->
<path class="mw" d="M914 752C912 756 912 776 914 782L918.4 784V750Z"/>
<path class="mw" d="M934 746L930 752V772L934 780L940.6 782V746Z"/>
<path class="m" d="M930 752L940 750 M930 772L940 774"/>
<!-- rear plate -->
<path class="mw" d="M925.1 652.1L1145.8 559.6L1150.2 561.6L1147 573.2L947.3 663.2L940.6 671.8V800L928.8 808.7L918.4 803.7V659.5Z"/>
<path class="m" d="M925.1 652.1L929 655L1147.6 562.4 M929 655L922 663V805.4 M922 663L918.4 659.5"/>
<!-- front plate -->
<path class="mw" d="M947.3 663.2L1166.8 569.5L1172.2 572.4L1156.9 618.8L1143.3 634.8L1049.6 674.3C1040 678.4 1033 684 1027.4 690.3C1020 699 1014 709 1010.2 718.7L1005.2 727.3L1040 737L1097.7 779.1V787.7L1016.3 821L949.7 818L940.6 812.4V671.8Z"/>
<path class="m" d="M947.3 663.2L951.2 666.2L1168.6 573 M951.2 666.2L944.4 674.6V815 M944.4 674.6L940.6 671.8"/>
<ellipse class="m" cx="1001.5" cy="685.4" rx="15.2" ry="21.8" transform="rotate(12 1001.5 685.4)"/>
<path class="m" d="M1140.4 609.4L1144.6 608L1147.4 612.6L1144.6 623.4L1140 624.6L1136.6 620Z M1140.4 609.4L1139.4 619.6L1140 624.6" style="stroke-width:1.7"/>
<!-- clamp block -->
<path class="mw" d="M970.7 744.5L1017.6 726.1C1024 725.4 1030 726 1034.8 727.3C1040 729.4 1043 733.4 1044.7 737.2L1097.7 779.1V787.7L1016.3 821L985.5 801.3Z"/>
<path class="m" d="M975 747.6L1019 729.6C1026 728.8 1036 731.6 1040 738.6L1092 779.4L1017 811.8L986 790 M1017 811.8V821 M1097.7 779.1L1092 779.4"/>
<!-- foot with hole -->
<path class="mw" d="M985.5 801.3L996 790.6L1005.6 789.8L1014 799.6L1016.3 813.1V821Z"/>
<path class="m" d="M996 790.6L1002 796L1010 795.4L1005.6 789.8 M1002 796L1016.3 813.1"/>
<ellipse class="m" cx="1000.4" cy="796.6" rx="3.2" ry="2.2" style="stroke-width:1.6"/>
<!-- round clamp nut -->
<path class="mw" d="M957 752L970 747.4L986 750L993 757V790L984 797.6L966 800L954.6 792.6L951 780V764Z"/>
<path class="mw" d="M962.4 760L972.6 752.6L988.6 751.8L993.4 756.4V768L985.6 770.6V790L990.6 786.6V796.6L976.6 802.6L964 799L961.4 790Z"/>
<path class="m" d="M962.4 760L969 764L985.6 762V770.6 M969 764V796L964 799 M969 782L985.6 778.6 M969 788L990.6 786.6 M972 768L977.6 765L980 773L974 776Z M976.6 802.6V796"/>
<!-- line to ring -->
<path class="b" d="M1001.5 687.8L1089.1 724.8" style="stroke-width:2.4"/>
<!-- ring 24 -->
<g transform="translate(1070 690) scale(0.06165)" stroke-linejoin="round" stroke-linecap="round">
<path d="M650 1250C500 1290 330 1150 290 900C260 650 420 330 640 240C800 180 950 220 1010 330C1100 340 1250 350 1340 480C1400 570 1410 650 1400 700L1350 750L980 590L970 500C850 600 720 800 710 1110C800 1080 860 1000 890 930L1270 1090L1280 1140C1200 1300 1000 1420 850 1390C760 1370 690 1300 650 1250Z" fill="#fff" stroke="#0c0908" stroke-width="42"/>
<path d="M640 1215C510 1245 365 1120 330 900C305 670 450 380 650 285C790 230 920 265 985 345" fill="none" stroke="#5a5350" stroke-width="16" stroke-dasharray="14 16"/>
<path d="M1010 400C850 480 650 800 630 1100C630 1180 650 1230 680 1260" fill="none" stroke="#0c0908" stroke-width="14"/>
<path d="M985 440C850 520 690 810 668 1100C668 1160 680 1210 700 1240" fill="none" stroke="#5a5350" stroke-width="22" stroke-dasharray="12 14"/>
<path d="M1040 400C1150 395 1270 420 1330 520C1375 600 1380 660 1360 700 M740 1280C800 1350 920 1370 1010 1330C1110 1290 1200 1210 1250 1130" fill="none" stroke="#5a5350" stroke-width="16" stroke-dasharray="14 16"/>
<path d="M990 470C1100 440 1250 470 1320 600C1340 640 1345 670 1340 700 M710 1110C740 1230 830 1320 950 1300C1060 1280 1170 1200 1230 1100" fill="none" stroke="#6a625f" stroke-width="9"/>
</g>
<text class="num" x="1118.7" y="866.6">24</text>
<path class="k" d="M1118.2 777.8V825.9"/>
</g>

<!-- 22_D.svgf -->
<g id="panelD">
<g transform="translate(870 920) scale(0.16031)" fill="#fff" stroke="#1c1614" stroke-width="13" stroke-linejoin="round" stroke-linecap="round">
<!-- left arch top surface -->
<path d="M300 782L400 770C430 700 500 670 560 675C640 690 720 760 770 870C800 940 815 1000 820 1060L700 1100L690 1290L560 1240L556 1110C552 1060 540 1000 510 940C470 860 400 800 330 790Z" stroke="none"/><path fill="none" d="M330 790L400 770"/>
<!-- back ribs left arch -->
<path fill="none" d="M400 770C430 700 500 670 560 675C640 690 720 760 770 870C800 940 815 1000 820 1060"/>
<path fill="none" d="M415 760C450 705 510 688 565 693C640 708 710 775 755 880C785 950 798 1000 803 1055 M430 752C465 715 520 705 570 710C640 725 700 790 742 890C770 955 783 1005 788 1050"/>
<!-- left arch front face -->
<path d="M108 1050C110 960 150 850 220 805C300 765 380 800 440 870C480 920 500 1000 500 1060V1265L520 1290L700 1375L730 1370V1300L545 1215V1100C530 1000 470 900 400 870C330 840 270 860 230 900C190 940 172 1020 175 1080L155 1100Z"/>
<path fill="none" d="M330 790C400 800 470 860 510 940C540 1000 552 1060 556 1110V1210 M175 1080L150 1095 M180 1010L430 905 M178 1078L420 985"/>
<!-- U channel inside -->
<path fill="none" d="M545 1215L575 1245L680 1290 M556 1210L586 1232L690 1275 M575 1165L690 1118 M590 1190L690 1150 M660 1235C665 1215 680 1205 690 1208"/>
<!-- right arch back ribs & top -->
<path d="M960 1020C990 960 1060 930 1120 940C1200 955 1270 1030 1315 1130C1345 1200 1358 1280 1360 1340L1035 1472L1000 1300L900 1060Z"/>
<path fill="none" d="M975 1012C1010 968 1070 948 1125 958C1200 973 1262 1045 1302 1140C1330 1205 1342 1285 1345 1345 M990 1005C1025 978 1080 966 1130 976C1200 991 1252 1058 1290 1150C1315 1212 1326 1290 1330 1352"/>
<!-- right arch front face -->
<path d="M700 1230C705 1150 750 1075 810 1052C880 1030 960 1080 1010 1150C1050 1210 1075 1300 1080 1390L1035 1472C1030 1380 1010 1290 975 1225C940 1160 890 1115 840 1118C790 1122 755 1170 745 1230C740 1270 738 1310 735 1345L730 1370L700 1375Z"/>
<path fill="none" d="M810 1052L960 1020 M860 1046C940 1060 1010 1120 1050 1200C1078 1260 1092 1330 1096 1385L1085 1392 M1080 1390L1096 1385L1100 1445 M745 1262L960 1170 M740 1318L985 1245 M745 1335L990 1258 M1090 1358L1290 1275 M1035 1472L1100 1445"/>
</g>
<!-- bolt 7 -->
<path class="mw" d="M972.1 953L975.4 950.4C978.4 949.2 982.4 949.2 985 950.4L988.1 953V956.8L985 959.4H975.4L972.1 956.8Z"/>
<path class="m" d="M972.1 953L975.4 955.4H985L988.1 953 M975.4 955.4V959.4 M985 955.4V959.4"/>
<path class="mw" d="M975.5 959.4H984.6V987.6C982 989.4 978 989.4 975.5 987.6Z"/>
<path class="b" d="M980 993V1126.6 M980 1140.6V1208" style="stroke-width:2.4"/>
<text class="num" x="1065.6" y="967.3">7</text>
<text class="num" x="1171.4" y="1134.8">25</text>
<path class="k" d="M992.2 955H1043.9 M1088.3 1122.8H1139.6"/>
</g>

<!-- 23_D2.svgf -->
<g id="panelD2">
<g transform="translate(860 1170) scale(0.16031)" fill="#fff" stroke="#000" stroke-width="17" stroke-linejoin="round" stroke-linecap="round">
<path d="M790 182L1020 282V325L640 490C600 510 575 560 570 620V1090C568 1150 540 1205 500 1230L300 1310L70 1215V1165L270 1080C290 1070 300 1055 300 1040V540C305 450 350 375 415 345L720 210"/>
<g fill="none" stroke-width="9" stroke="#1c1614">
<path d="M1020 282L635 440C580 470 535 540 525 630V1100C520 1140 505 1160 480 1175L300 1262V1310 M300 1262L70 1165 M415 345L635 440 M310 545L525 630 M300 1025L525 1115 M270 1086L480 1175"/>
</g>
<ellipse cx="750" cy="300" rx="55" ry="24" stroke-width="13"/>
<ellipse cx="288" cy="1172" rx="58" ry="27" stroke-width="13"/>
</g>
<path class="b" d="M979.9 1170V1217.4 M979.9 1244.6V1330" style="stroke-width:2.4"/>
<!-- nut 3 -->
<path class="mw" d="M966.8 1334.4L972.6 1329.6H986.6L992.8 1334.4V1342.6L986.6 1348H972.6L966.8 1342.6Z" style="stroke-width:1.7"/>
<path class="m" d="M966.8 1334.4L972.6 1338.6H986.6L992.8 1334.4 M972.6 1338.6V1348 M986.6 1338.6V1348" style="stroke-width:1.5"/>
<ellipse class="m" cx="979.8" cy="1334" rx="7.6" ry="3.4" style="stroke-width:1.6"/>
<ellipse class="m" cx="979.8" cy="1334.2" rx="4.6" ry="1.9" style="stroke-width:2.2"/>
<text class="num" x="1109.7" y="1230.6">26</text>
<text class="num" x="1070" y="1348.3">3</text>
<path class="k" d="M1025.9 1218.1H1077.7 M997.1 1336.7H1048.8"/>
</g>

<!-- 24_E.svgf -->
<g id="panelE">
<g transform="translate(930 1450) scale(0.12945)" fill="#fff" stroke="#0e0a08" stroke-width="16" stroke-linejoin="round" stroke-linecap="round">
<!-- right wing -->
<path d="M820 170L885 143L1180 265C1180 340 1150 420 1090 470C1075 482 1062 486 1050 490L770 605L750 445L970 350L785 275C800 250 815 215 820 170Z"/>
<path fill="none" d="M820 170L1115 295L1180 265 M1115 295C1100 360 1070 400 1040 412C1005 420 985 395 975 350"/>
<!-- left wing + front -->
<path d="M465 325C455 380 430 440 400 485L232 418L155 452C155 530 190 590 240 620L490 730C530 755 590 760 650 735C700 710 740 650 770 605L750 445Z"/>
<!-- top plate -->
<path d="M465 325L685 230L970 350L750 445Z"/>
<ellipse cx="712" cy="342" rx="68" ry="32"/>
<path fill="none" d="M155 452L445 580L520 545L232 418 M445 580C445 650 470 710 520 745 M520 545C520 600 550 650 605 655C670 650 740 560 752 445"/>
</g>
<path class="b" d="M1022.2 1539.6V1629 M1022.8 1642.4V1708.4" style="stroke-width:2.4"/>
<!-- washer 8 -->
<ellipse class="bw" cx="1022.2" cy="1632.6" rx="22.2" ry="10.4" style="stroke-width:2.4"/>
<ellipse class="bw" cx="1022.2" cy="1630.4" rx="22.2" ry="10.4" style="stroke-width:2.4"/>
<ellipse class="b" cx="1022.2" cy="1630.8" rx="7.6" ry="3.2" style="stroke-width:2.6"/>
<path class="b" d="M1022.2 1539.6V1630" style="stroke-width:2.4"/>
<!-- bolt 28 -->
<path class="bw" style="stroke-width:2.2" d="M1015.8 1712C1018 1709 1028 1709 1030.1 1712V1760H1015.8Z"/>
<path class="bw" style="stroke-width:2.2" d="M1009.8 1763L1014.4 1759.6H1031.4L1035.6 1763V1770.6L1031.4 1774.4H1014.4L1009.8 1770.6Z"/>
<path class="b" style="stroke-width:1.8" d="M1009.8 1763L1014.4 1766.4H1031.4L1035.6 1763 M1014.4 1766.4V1774.4 M1031.4 1766.4V1774.4"/>
<text class="num" x="1169.5" y="1506.7">27</text>
<text class="num" x="1120.6" y="1643.1">8</text>
<text class="num" x="1120.7" y="1776.4">28</text>
<path class="k" d="M1087.7 1493H1139.7 M1047.2 1631H1098.9 M1037.3 1764.7H1088.7"/>
</g>

<!-- 30_truck_top.svgf -->
<g id="truck_top">
<path class="d" d="M1588.4 524.0L2085.2 313.7 M1588.4 524.0L1888.6 651.7L2383.3 441.9 M2085.2 313.7L2383.3 441.9"/>
<path class="d" d="M1562.6 522.6L2069.2 310.5L2072.6 313 M2088.4 310.5L2405.8 448.3 M2085.2 313.7L2088.4 310.5"/>
<path class="g" d="M1770.6 499.8L1765.0 497.9L1758.4 496.8L1751.3 496.4L1744.2 496.8L1737.6 498.0L1732.0 499.8L1723.9 503.3L1719.5 505.7L1716.8 508.5L1715.9 511.5L1716.8 514.5L1719.5 517.3L1723.9 519.7L1927.2 605.5L1932.9 607.3L1939.5 608.4L1946.5 608.8L1953.6 608.4L1960.2 607.3L1965.9 605.4L1974.0 602.0L1978.3 599.6L1981.1 596.8L1982.0 593.8L1981.0 590.8L1978.3 588.0L1974.0 585.6Z"/>
<path class="g" d="M1772.2 500.7L1767.2 499.1L1761.4 498.0L1755.2 497.7L1748.9 498.1L1743.1 499.1L1738.1 500.7L1731.0 503.7L1727.2 505.9L1724.8 508.3L1724.0 511.0L1724.8 513.6L1727.2 516.1L1731.1 518.2L1930.7 602.4L1935.7 604.0L1941.5 605.0L1947.7 605.4L1954.0 605.0L1959.8 604.0L1964.8 602.4L1971.9 599.4L1975.7 597.2L1978.1 594.8L1978.9 592.1L1978.1 589.5L1975.7 587.0L1971.8 584.9Z"/>
<path class="d" style="stroke-width:1.5" d="M1716.8 508.5L1719.5 505.7L1723.9 503.3L1732.0 499.8L1737.6 498.0L1744.2 496.8L1751.3 496.4L1758.4 496.8L1765.0 497.9L1770.6 499.8L1974.0 585.6"/>
<path class="g" d="M1871.9 456.9L1866.3 455.0L1859.7 453.9L1852.6 453.5L1845.5 453.9L1838.9 455.1L1833.3 456.9L1825.2 460.4L1820.8 462.8L1818.1 465.6L1817.2 468.6L1818.1 471.6L1820.8 474.4L1825.2 476.8L2028.5 562.6L2034.2 564.4L2040.8 565.5L2047.8 565.9L2054.9 565.5L2061.5 564.4L2067.2 562.5L2075.3 559.1L2079.6 556.7L2082.4 553.9L2083.3 550.9L2082.3 547.9L2079.6 545.1L2075.3 542.7Z"/>
<path class="g" d="M1873.5 457.8L1868.5 456.2L1862.7 455.1L1856.5 454.8L1850.2 455.2L1844.4 456.2L1839.4 457.8L1832.3 460.8L1828.5 463.0L1826.1 465.4L1825.3 468.1L1826.1 470.7L1828.5 473.2L1832.4 475.3L2032.0 559.5L2037.0 561.1L2042.8 562.1L2049.0 562.5L2055.3 562.1L2061.1 561.1L2066.1 559.5L2073.2 556.5L2077.0 554.3L2079.4 551.9L2080.2 549.2L2079.4 546.6L2077.0 544.1L2073.1 542.0Z"/>
<path class="d" style="stroke-width:1.5" d="M1818.1 465.6L1820.8 462.8L1825.2 460.4L1833.3 456.9L1838.9 455.1L1845.5 453.9L1852.6 453.5L1859.7 453.9L1866.3 455.0L1871.9 456.9L2075.3 542.7"/>
<path class="g" d="M1973.2 414.0L1967.6 412.1L1961.0 411.0L1953.9 410.6L1946.8 411.0L1940.2 412.2L1934.6 414.0L1926.5 417.5L1922.1 419.9L1919.4 422.7L1918.5 425.7L1919.4 428.7L1922.1 431.5L1926.5 433.9L2129.8 519.7L2135.5 521.5L2142.1 522.6L2149.1 523.0L2156.2 522.6L2162.8 521.5L2168.5 519.6L2176.6 516.2L2180.9 513.8L2183.7 511.0L2184.6 508.0L2183.6 505.0L2180.9 502.2L2176.6 499.8Z"/>
<path class="g" d="M1974.8 414.9L1969.8 413.3L1964.0 412.2L1957.8 411.9L1951.5 412.3L1945.7 413.3L1940.7 414.9L1933.6 417.9L1929.8 420.1L1927.4 422.5L1926.6 425.2L1927.4 427.8L1929.8 430.3L1933.7 432.4L2133.3 516.6L2138.3 518.2L2144.1 519.2L2150.3 519.6L2156.6 519.2L2162.4 518.2L2167.4 516.6L2174.5 513.6L2178.3 511.4L2180.7 509.0L2181.5 506.3L2180.7 503.7L2178.3 501.2L2174.4 499.1Z"/>
<path class="d" style="stroke-width:1.5" d="M1919.4 422.7L1922.1 419.9L1926.5 417.5L1934.6 414.0L1940.2 412.2L1946.8 411.0L1953.9 410.6L1961.0 411.0L1967.6 412.1L1973.2 414.0L2176.6 499.8"/>
<path class="g" d="M2074.5 371.1L2068.9 369.2L2062.3 368.1L2055.2 367.7L2048.1 368.1L2041.5 369.3L2035.9 371.1L2027.8 374.6L2023.4 377.0L2020.7 379.8L2019.8 382.8L2020.7 385.8L2023.4 388.6L2027.8 391.0L2231.1 476.8L2236.8 478.6L2243.4 479.7L2250.4 480.1L2257.5 479.7L2264.1 478.6L2269.8 476.7L2277.9 473.3L2282.2 470.9L2285.0 468.1L2285.9 465.1L2284.9 462.1L2282.2 459.3L2277.9 456.9Z"/>
<path class="g" d="M2076.1 372.0L2071.1 370.4L2065.3 369.3L2059.1 369.0L2052.8 369.4L2047.0 370.4L2042.0 372.0L2034.9 375.0L2031.1 377.2L2028.7 379.6L2027.9 382.3L2028.7 384.9L2031.1 387.4L2035.0 389.5L2234.6 473.7L2239.6 475.3L2245.4 476.3L2251.6 476.7L2257.9 476.3L2263.7 475.3L2268.7 473.7L2275.8 470.7L2279.6 468.5L2282.0 466.1L2282.8 463.4L2282.0 460.8L2279.6 458.3L2275.7 456.2Z"/>
<path class="d" style="stroke-width:1.5" d="M2020.7 379.8L2023.4 377.0L2027.8 374.6L2035.9 371.1L2041.5 369.3L2048.1 368.1L2055.2 367.7L2062.3 368.1L2068.9 369.2L2074.5 371.1L2277.9 456.9"/>
<path class="d" d="M1590.9 547.2L1861.8 660.9"/>
<path class="g" d="M1588.5 535.5L1889 662 M1590 541L1876 661"/>
<path class="d" d="M1588.4 524C1586.5 530 1587 540 1590.9 547.2"/>
<path class="d" d="M1562.6 522.6C1570 532 1573.6 545 1574.2 559.2L1570.5 800 M1575.8 560L1572.4 800 M1580.8 529C1583 526 1586 524.6 1588.4 524"/>
<path class="g" d="M1587.7 537L1584.4 800"/>
<path class="d" d="M1600.1 553.6L1598.3 784.8 M1624.2 579.5L1622.3 800"/>
<path class="d" d="M1601 566.6L1601.6 587L1641.6 570.6 M1601 566.6L1611 562"/>
<path class="g" d="M1601 566.6L1622 558 M1603 568V586"/>
<path class="g" d="M1658 578V588C1658 594 1652 596 1649.6 600C1647.6 604 1647.6 610 1647.6 616V682C1647.6 688 1652 688 1655 690C1658 692 1658 698 1658 704C1658 712 1660 718 1662 722 M1662 580V590C1662 596 1656 598 1653.6 602C1651.6 606 1651.6 612 1651.6 618V680C1651.6 686 1656 686 1659 688C1662 690 1662 696 1662 702C1662 710 1664 716 1666 720"/>
<path class="g" d="M1676.9 588V718"/>
<path class="d" d="M1691.3 592V715.5L1675 721.5"/>
<path class="d" d="M1691.3 690.1L1810 641.5"/>
<path class="g" d="M1692 695L1816 644 M1694 698C1698 699 1700 698 1704 696L1822 647"/>
<path class="g" d="M1601 753.4L1838 654.5"/>
<path class="d" d="M1603.8 769.1L1862 662.6 M1601 753.4V767L1603.8 769.1"/>
<path class="g" d="M1649.1 752.5L1880 657.5 M1652 757L1880 663"/>
<path class="g" style="stroke:#6a625f" d="M1851.6 683.1L1881.2 671.0V741.3L1851.6 753.4Z"/>
<path class="g" d="M1855.1 685.7L1877.7 676.4V738.7L1855.1 748.0Z"/>
<path class="g" d="M1847.4 684.7V800.0"/>
<path class="g" style="stroke:#6a625f" d="M1813.5 698.7L1843.1 686.6V756.9L1813.5 769.0Z"/>
<path class="g" d="M1817.0 701.3L1839.6 692.0V754.3L1817.0 763.6Z"/>
<path class="g" d="M1809.3 700.3V800.0"/>
<path class="g" style="stroke:#6a625f" d="M1775.4 714.3L1805.0 702.2V772.5L1775.4 784.6Z"/>
<path class="g" d="M1778.9 716.9L1801.5 707.6V769.9L1778.9 779.2Z"/>
<path class="g" d="M1771.2 715.9V800.0"/>
<path class="g" style="stroke:#6a625f" d="M1737.3 729.9L1766.9 717.8V788.1L1737.3 800.2Z"/>
<path class="g" d="M1740.8 732.5L1763.4 723.2V785.5L1740.8 794.8Z"/>
<path class="g" d="M1733.1 731.5V800.0"/>
<path class="g" style="stroke:#6a625f" d="M1699.2 745.5L1728.8 733.4V803.7L1699.2 815.8Z"/>
<path class="g" d="M1702.7 748.1L1725.3 738.8V801.1L1702.7 810.4Z"/>
<path class="g" d="M1695.0 747.1V800.0"/>
<path class="g" style="stroke:#6a625f" d="M1661.1 761.1L1690.7 749.0V819.3L1661.1 831.4Z"/>
<path class="g" d="M1664.6 763.7L1687.2 754.4V816.7L1664.6 826.0Z"/>
<path class="g" d="M1656.9 762.7V800.0"/>
<path class="g" d="M1881.6 670V744 M1885 668V742 M1890 666V746"/>
<path class="d" d="M1778.6 789.4L1888.6 746.9L1924.7 761.7"/>
<path class="d" d="M1742.5 800V793.1L1760 785.8L1778.6 793.4V800"/>
<path class="g" d="M1742.5 793.1L1761 800.6L1778.6 793.4"/>
<path class="d" d="M1888.6 651.7C1902 660 1915 676 1921 694C1926 710 1928 724 1931.8 737.7L1945.6 900L1952.6 1020 M1861.8 660.9C1880 668 1896 682 1905 700C1912 714 1915 728 1917.6 740L1933 900L1941 1020"/>
<path class="g" d="M1913.2 684L1921.4 698"/>
<path class="d" style="stroke-width:1.9" d="M1888.6 651.7L2383.3 441.9"/>
<path class="d" d="M1888.6 651.7C1896 656 1902.4 664.7 1908 674C1914 686 1918 694 1921.7 698.8C1930 706 1944 712 1957 714.4C1962 715 1966 713.6 1970 712L2453.9 509.2C2458 507 2461 505 2460.3 502.8L2457.1 491.6C2455 486 2452 478 2447.5 472.4L2405.8 448.3"/>
<path class="g" d="M1950.5 677L2447.5 472.4 M1950.5 677L1912 666 M1950.5 677C1954 690 1956 702 1957.6 713 M1959 712L2457 503"/>
<path class="d" d="M1946.6 719.9C1952 760 1962 860 1968 920C1972 960 1974 985 1974.8 1001.3 M1949 719.9C1955 770 1966 880 1973.3 937.6"/>
<path class="d" d="M1973.3 937.6L2454.6 736.2"/>
<path class="g" d="M1973.6 939.6L2455 738.4"/>
<path class="d" d="M2425 520.5C2438 610 2450 700 2458.8 780L2467.7 1040.4 M2439.5 518.9C2452 610 2463 700 2471.6 780L2478.5 1038.4"/>
<path class="d" d="M2441 546.1H2466.7C2476 547 2482 552 2484.6 562C2496 640 2506 760 2512.3 939.1C2512.6 958 2508 972 2499 974.6C2492 977 2484 977.6 2478.3 977.6"/>
<path class="d" d="M2444.3 552.5H2466C2472 553.4 2476 556.6 2477.6 564C2488 640 2498 760 2504.9 942C2505 956 2502 968 2494.5 970.2C2490 971.4 2484 971.6 2478.3 971.6"/>
<path class="d" d="M2467.9 755.5L2502 757 M2468.6 763L2497 764.2L2502 757"/>
</g>
<!-- 30b_truck_left.svgf -->
<g id="truck_chassis" transform="translate(1280 820) scale(0.16031)">
<g class="d" fill="none">
<!-- chassis plate -->
<path vector-effect="non-scaling-stroke" class="g" d="M290 650L1540 1175"/>
<path vector-effect="non-scaling-stroke" d="M395 560L1710 1100 M295 1310L755 1500"/>
<path vector-effect="non-scaling-stroke" d="M285 885V930L300 975L285 1010 M285 1030V1085"/>
<!-- deck left edge -->
<path vector-effect="non-scaling-stroke" d="M510 1622L1780 1075L1820 1105L620 1622"/>
<!-- step plates -->
<path vector-effect="non-scaling-stroke" class="dw" d="M1540 110L1680 45L1810 100V250L1545 140Z"/>
<path vector-effect="non-scaling-stroke" d="M1545 125L1810 235 M1410 185L1800 240 M1410 210L1790 248"/>
<path vector-effect="non-scaling-stroke" class="dw" d="M1690 245V560L1680 580C1670 640 1650 660 1640 670L1410 790L1700 830L1810 800V610L1690 560"/>
<path vector-effect="non-scaling-stroke" d="M1640 670L1810 740 M1600 820L1800 890 M1620 810L1810 875 M1680 580L1810 630"/>
<path vector-effect="non-scaling-stroke" d="M1810 -10V1090 M1830 -10V1120"/>
<path vector-effect="non-scaling-stroke" class="g" d="M1890 350V1100 M1890 350L2121 440 M1915 650V1110"/>
</g>
<g fill="none" stroke="#2a2321" stroke-width="1.2">
<g vector-effect="non-scaling-stroke">
<ellipse vector-effect="non-scaling-stroke" cx="345" cy="780" rx="30" ry="24" transform="rotate(-20 345 780)"/><ellipse vector-effect="non-scaling-stroke" cx="465" cy="830" rx="30" ry="24" transform="rotate(-20 465 830)"/><ellipse vector-effect="non-scaling-stroke" cx="345" cy="1240" rx="30" ry="24" transform="rotate(-20 345 1240)"/><ellipse vector-effect="non-scaling-stroke" cx="465" cy="1290" rx="30" ry="24" transform="rotate(-20 465 1290)"/>
<ellipse vector-effect="non-scaling-stroke" cx="345" cy="782" rx="15" ry="12"/><ellipse vector-effect="non-scaling-stroke" cx="465" cy="832" rx="15" ry="12"/><ellipse vector-effect="non-scaling-stroke" cx="345" cy="1242" rx="15" ry="12"/><ellipse vector-effect="non-scaling-stroke" cx="465" cy="1292" rx="15" ry="12"/>
</g>
</g>
<g fill="#fff" stroke="#2a2321" stroke-width="1.4">
<ellipse vector-effect="non-scaling-stroke" cx="668" cy="892" rx="9" ry="12"/><ellipse vector-effect="non-scaling-stroke" cx="478" cy="950" rx="8" ry="11"/><ellipse vector-effect="non-scaling-stroke" cx="550" cy="970" rx="10" ry="13"/><ellipse vector-effect="non-scaling-stroke" cx="478" cy="1022" rx="8" ry="11"/><ellipse vector-effect="non-scaling-stroke" cx="668" cy="1020" rx="10" ry="13"/><ellipse vector-effect="non-scaling-stroke" cx="547" cy="1068" rx="9" ry="12"/><ellipse vector-effect="non-scaling-stroke" cx="638" cy="1106" rx="8" ry="11"/><ellipse vector-effect="non-scaling-stroke" cx="757" cy="1140" rx="8" ry="11"/><ellipse vector-effect="non-scaling-stroke" cx="547" cy="1154" rx="9" ry="12"/><ellipse vector-effect="non-scaling-stroke" cx="638" cy="1190" rx="8" ry="11"/><ellipse vector-effect="non-scaling-stroke" cx="745" cy="1236" rx="11" ry="15"/><ellipse vector-effect="non-scaling-stroke" cx="897" cy="1304" rx="11" ry="15"/><ellipse vector-effect="non-scaling-stroke" cx="1005" cy="1342" rx="11" ry="15"/><ellipse vector-effect="non-scaling-stroke" cx="745" cy="1407" rx="11" ry="15"/><ellipse vector-effect="non-scaling-stroke" cx="977" cy="1043" rx="8" ry="11"/><ellipse vector-effect="non-scaling-stroke" cx="1130" cy="1088" rx="9" ry="13"/><ellipse vector-effect="non-scaling-stroke" cx="1130" cy="1214" rx="9" ry="12"/><ellipse vector-effect="non-scaling-stroke" cx="1270" cy="1165" rx="9" ry="12"/><ellipse vector-effect="non-scaling-stroke" cx="1362" cy="1221" rx="9" ry="13"/><ellipse vector-effect="non-scaling-stroke" cx="1268" cy="1278" rx="9" ry="11"/><ellipse vector-effect="non-scaling-stroke" cx="1768" cy="320" rx="10" ry="14"/><ellipse vector-effect="non-scaling-stroke" cx="1752" cy="642" rx="10" ry="14"/><ellipse vector-effect="non-scaling-stroke" cx="1880" cy="1545" rx="9" ry="18"/>
</g>
</g>
<g id="truck_fenderL" transform="translate(1240 1040) scale(0.17265)">
<g class="d" fill="none">
<!-- mudflap -->
<path vector-effect="non-scaling-stroke" class="dw" d="M97 1240V1827L882 1493V1000L150 1300Z"/>
<path vector-effect="non-scaling-stroke" d="M90 1250V1310"/>
<!-- behind bracket -->
<path vector-effect="non-scaling-stroke" d="M240 940V680L440 595 M250 678L350 722L400 660 M262 690L352 730L392 680"/>
<!-- bracket outer -->
<path vector-effect="non-scaling-stroke" class="dw" d="M660 415L520 470L480 520L110 1180L115 1330L140 1335L150 1300L880 1000L930 990L950 900L995 810L980 760L1050 610L1060 600L665 430Z"/>
<path vector-effect="non-scaling-stroke" d="M915 555L730 632L600 595H560L520 640L200 1160L150 1250V1300 M740 620L700 530 M215 630L225 950 M222 950L370 690"/>
<path vector-effect="non-scaling-stroke" class="g" d="M215 1140L875 870L1040 600 M875 870V1000 M890 872V998 M905 876V996 M565 480L690 535 M575 492L690 545 M585 505L695 555 M700 530L800 495"/>
<!-- deck side face -->
<path vector-effect="non-scaling-stroke" class="dw" d="M715 215L680 270L665 280V430L1060 600L1280 690C1400 760 1500 850 1600 960C1700 1080 1800 1220 1880 1360C1940 1470 1980 1560 2010 1640H2100V795Z"/>
<path vector-effect="non-scaling-stroke" d="M715 215L2100 796 M715 215L1340 -50 M755 205L1240 0 M820 220L1345 -3"/>
<path vector-effect="non-scaling-stroke" class="g" d="M722 228L2100 808 M690 285L1500 625L2100 878 M1550 655L2100 1050 M665 280L690 285"/>
<path vector-effect="non-scaling-stroke" d="M1790 575L2100 445"/>
<path vector-effect="non-scaling-stroke" class="g" d="M1790 575L2100 705"/>
<path vector-effect="non-scaling-stroke" d="M640 0L930 120"/>
<path vector-effect="non-scaling-stroke" d="M898 455L912 448L925 472L910 482Z"/>
</g>
<g fill="#2a2321"><circle cx="960" cy="640" r="8"/><circle cx="740" cy="735" r="8"/><circle cx="517" cy="827" r="8"/><circle cx="825" cy="985" r="8"/><circle cx="604" cy="1077" r="8"/><circle cx="383" cy="1170" r="8"/><circle cx="160" cy="1265" r="8"/><circle cx="873" cy="452" r="4"/><circle cx="1003" cy="507" r="4"/><circle cx="340" cy="672" r="4"/></g>
<g class="dw">
<path vector-effect="non-scaling-stroke" d="M1650 258C1654 246 1696 246 1700 258V274C1696 288 1654 288 1650 274Z M1312 400C1316 388 1356 388 1360 400V416C1356 430 1316 430 1312 416Z M2038 705C2042 693 2080 693 2084 705V720C2080 732 2042 732 2038 720Z M1965 120L1985 116V150L1965 152Z"/>
<ellipse vector-effect="non-scaling-stroke" cx="925" cy="30" rx="9" ry="14"/>
</g>
</g>

<!-- 30c_truck_fender.svgf -->
<g id="truck_fender2" transform="translate(1480 1200) scale(0.19109)">
<g class="d" fill="none">
<!-- fender body -->
<path d="M100 -100C200 20 300 150 430 350C500 470 560 600 650 850C690 970 720 1100 760 1250C770 1290 785 1310 800 1320L1265 1525C1280 1527 1295 1524 1300 1520C1315 1515 1325 1508 1330 1500L1485 1260V740L1427 750V-100Z" fill="#fff" stroke="none"/>
<path vector-effect="non-scaling-stroke" d="M100 -100C200 20 300 150 430 350C500 470 560 600 650 850C690 970 720 1100 760 1250C770 1290 785 1310 800 1320L1265 1525C1280 1527 1295 1524 1300 1520C1315 1515 1325 1508 1330 1500L1485 1260V740"/>
<path vector-effect="non-scaling-stroke" class="g" d="M480 0L1427 290 M640 110L1427 745 M720 0L1470 235 M1427 750V1280L1485 1260 M1427 1280L1265 1525 M1470 -10V235 M1560 -10V190L1470 235 M1560 190L2050 -10"/>
<path vector-effect="non-scaling-stroke" d="M640 100L1100 295L1425 430 M1100 295L1425 570"/>
<path vector-effect="non-scaling-stroke" d="M1427 750V290L1450 255L1470 235 M1440 745V295"/>
<!-- opening 1 -->
<path vector-effect="non-scaling-stroke" class="dw" d="M545 210L790 315L1225 665C1245 680 1255 700 1255 720L1247 800C1242 825 1225 840 1200 835L720 640C700 630 690 620 680 600L520 265C508 235 520 205 545 210Z"/>
<path vector-effect="non-scaling-stroke" d="M790 315L865 490C875 510 885 520 900 528L1235 680"/>
<path vector-effect="non-scaling-stroke" class="g" d="M880 520L690 600"/>
<!-- opening 2 -->
<path vector-effect="non-scaling-stroke" class="gw" d="M825 905L1200 1060C1235 1075 1252 1100 1255 1135V1370C1252 1395 1240 1408 1215 1405C1205 1405 1195 1402 1185 1398L860 1250C840 1240 828 1220 822 1195L790 965C785 925 800 900 825 905Z"/>
<path vector-effect="non-scaling-stroke" d="M800 912C810 902 818 902 825 905L1200 1060C1235 1075 1252 1100 1255 1135V1370 M1005 980L1035 1120C1042 1150 1058 1172 1085 1185L1250 1255"/>
<path vector-effect="non-scaling-stroke" class="g" d="M1040 1165L860 1245"/>
<!-- bumper -->
<path d="M1490 735L2300 398V1085L1690 1340L1515 1270L1490 1255Z" fill="#fff" stroke="none"/>
<path vector-effect="non-scaling-stroke" d="M2300 398L1490 735V1255"/>
<path vector-effect="non-scaling-stroke" class="dw" d="M1530 760L1670 818C1685 825 1692 835 1690 850L1684 1320C1682 1338 1672 1342 1658 1336L1530 1280C1518 1274 1514 1268 1515 1255L1516 775C1517 762 1522 757 1530 760Z"/>
<path vector-effect="non-scaling-stroke" class="g" d="M1535 772L1662 826C1672 831 1678 838 1677 850L1672 1312 M1690 825L2300 570 M1530 760L2300 440"/>
<path vector-effect="non-scaling-stroke" d="M1690 1340L2300 1085 M2095 850L2322 754V905L2095 1000Z M2300 765L2310 910 M2105 995L2300 830"/>
<path vector-effect="non-scaling-stroke" class="g" d="M2105 858V1002"/>
</g>
<g fill="#2a2321"><circle cx="2082" cy="870" r="4"/><circle cx="2082" cy="975" r="4"/></g>
</g>

<!-- 31_truck_mid.svgf -->
<g id="truck_midA" transform="translate(1540 760) scale(0.19732)">
<g class="d" style="vector-effect:non-scaling-stroke" fill="none">
<path d="M292 556L1030 246V1640H292Z" fill="#fff" stroke="none"/>
<!-- back wall lower edge and verticals -->
<path vector-effect="non-scaling-stroke" d="M290 -10V555L1030 245 M422 -10V495 M1208 165L1960 -150"/>
<!-- rail -->
<path vector-effect="non-scaling-stroke" class="dw" d="M262 125L1030 440V512L262 195Z"/>
<path vector-effect="non-scaling-stroke" class="dw" d="M1208 528L2040 870V940L1208 598Z"/>
<path vector-effect="non-scaling-stroke" class="g" d="M275 140L1030 452 M1208 540L2040 882"/>
<!-- deck / cab base line -->
<path vector-effect="non-scaling-stroke" d="M190 1205L870 1480 M196 1218L860 1488"/>
<!-- left pillar bottom -->
<path vector-effect="non-scaling-stroke" d="M165 -10V1210 M180 -10V1215"/>
<path vector-effect="non-scaling-stroke" class="g" d="M215 590V1210 M215 590L1030 930 M1208 1010L1565 1160 M240 830V1190 M230 -10V590"/>
<!-- plate behind cooler -->
<path vector-effect="non-scaling-stroke" class="dw" d="M1575 1155L1780 1245V1622H1575Z"/>
<path vector-effect="non-scaling-stroke" class="g" d="M1565 1160V1260 M1790 1255L1850 1282"/>
<!-- cooler box top -->
<path vector-effect="non-scaling-stroke" class="dw" d="M760 1530L1510 1215L1715 1300V1622H760Z"/>
<path vector-effect="non-scaling-stroke" d="M1715 1300L1208 1512 M760 1530L1030 1640"/>
<!-- handrail 1 -->
<path d="M214 1640V1330C217 1270 255 1225 305 1200C350 1180 410 1165 460 1165C520 1165 552 1190 556 1240V1640H514V1250C512 1210 495 1196 455 1198C400 1200 350 1214 315 1236C275 1258 256 1290 256 1340V1640Z" fill="#fff" stroke="none"/>
<path vector-effect="non-scaling-stroke" class="d" d="M214 1640V1330C217 1270 255 1225 305 1200C350 1180 410 1165 460 1165C520 1165 552 1190 556 1240V1640 M514 1640V1250C512 1210 495 1196 455 1198C400 1200 350 1214 315 1236C275 1258 256 1290 256 1340V1640"/>
<path vector-effect="non-scaling-stroke" class="dw" d="M500 1398L512 1395V1420L500 1422Z M200 1525L212 1522V1548L200 1550Z"/>
<!-- handrail on cooler -->
<path vector-effect="non-scaling-stroke" class="dw" d="M830 1640C835 1580 850 1540 890 1522L1030 1580V1600L900 1548C870 1560 860 1600 858 1640Z"/>
</g>
<!-- post -->
<path d="M1030 155L1118 122L1208 160V1640H1030Z" fill="#fff" stroke="none"/>
<path vector-effect="non-scaling-stroke" class="d" d="M1030 1640V155L1118 122L1208 160V1640"/>
<path vector-effect="non-scaling-stroke" class="d" d="M1030 155L1118 195L1208 160 M1118 195V1640"/>
<g fill="#2a2321"><circle cx="1045" cy="393" r="6"/><circle cx="1100" cy="412" r="6"/><circle cx="1045" cy="450" r="6"/><circle cx="1100" cy="475" r="6"/><circle cx="1045" cy="568" r="6"/><circle cx="1100" cy="593" r="6"/><circle cx="1160" cy="355" r="3"/><circle cx="1045" cy="1580" r="6"/><circle cx="1100" cy="1605" r="6"/>
<circle cx="118" cy="565" r="8"/><circle cx="2040" cy="1385" r="7"/><circle cx="2040" cy="1500" r="7"/></g>
<path vector-effect="non-scaling-stroke" class="d" d="M1150 268L1162 245L1175 262L1170 285L1155 290Z"/>
<!-- handrail 2 (right) -->
<path vector-effect="non-scaling-stroke" class="dw" d="M1690 1418L2050 1262C2085 1250 2115 1265 2120 1300L2135 1640H2105L2092 1310C2090 1290 2075 1282 2055 1290L1690 1447Z"/>
<path vector-effect="non-scaling-stroke" class="d" d="M1760 1418V1640 M1985 1330V1640"/>
</g>
<g id="calloutA_truck">
<path class="blk" d="M1729 1043.7L1673.4 975.6L1661.6 989Z"/>
<rect class="box" x="1595.6" y="910.7" width="74.9" height="75.5"/>
<text class="let" x="1632.5" y="972.1">A</text>
</g>

<!-- 32_truck_low.svgf -->
<defs>
<pattern id="meshT" width="8.2" height="8.8" patternUnits="userSpaceOnUse" patternTransform="translate(1779.3 1076.5) skewY(-21.2)">
<rect width="8.2" height="8.8" fill="#1d1715"/>
<g fill="#fff" stroke="none">
<ellipse cx="2.6" cy="2.4" rx="1.9" ry=".85" transform="rotate(-28 2.6 2.4)"/>
<ellipse cx="6.7" cy="6.8" rx="1.9" ry=".85" transform="rotate(-28 6.7 6.8)"/>
</g>
</pattern>
</defs>
<g id="truck_lowA" transform="translate(1540 1040) scale(0.19732)">
<!-- deck surface lines -->
<g class="d" fill="none">
<path vector-effect="non-scaling-stroke" class="g" d="M40 500L755 200 M40 500L1010 905 M-10 580L1090 1040 M-10 645L1080 1075 M1210 975L2040 625"/>
<path vector-effect="non-scaling-stroke" d="M-10 540L1030 985 M1100 1040L2140 610V1060L2230 1085"/>
<path vector-effect="non-scaling-stroke" class="g" d="M2150 620V1065 M2140 610L2230 575"/>
<!-- front panel corner -->
<path vector-effect="non-scaling-stroke" d="M1100 1040C1085 1050 1080 1065 1080 1080V1530L1135 1530L2230 1085"/>
<path vector-effect="non-scaling-stroke" class="g" d="M1100 1045V1530 M1080 1530V1640"/>
<!-- handrail 1 legs -->
<path d="M214 -10V650C222 668 246 668 256 650V-10Z" fill="#fff" stroke="none"/>
<path vector-effect="non-scaling-stroke" class="d" d="M214 -10V650C222 668 246 668 256 650V-10"/>
<path vector-effect="non-scaling-stroke" d="M514 -10V525 M556 -10V525"/>
<path vector-effect="non-scaling-stroke" class="dw" d="M268 612C272 604 294 604 298 612V628C294 638 272 638 268 628Z M552 498C556 490 574 490 578 498V512C574 520 556 520 552 512Z M935 896C939 888 961 888 965 896V912C961 922 939 922 935 912Z M1214 782C1218 774 1240 774 1244 782V796C1240 806 1218 806 1214 796Z M1505 652C1509 644 1531 644 1535 652V666C1531 676 1509 676 1505 666Z"/>
<path vector-effect="non-scaling-stroke" class="dw" d="M200 100L212 97V128L200 130Z"/>
<!-- cooler flange and body -->
<path vector-effect="non-scaling-stroke" class="dw" d="M730 760L760 748L1030 858V880L985 880Z"/>
<path vector-effect="non-scaling-stroke" class="dw" d="M760 110L1030 0V860L760 750Z"/>
<path vector-effect="non-scaling-stroke" d="M775 118V756 M870 150L970 190V865L870 825Z M880 160V820"/>
</g>
<!-- coil column left of post -->
<path vector-effect="non-scaling-stroke" d="M985 200L1030 182V800L985 820Z" fill="#fff" stroke="#2a2321" stroke-width="1.2"/>
<path vector-effect="non-scaling-stroke" d="M1006 205V815" stroke="#2a2321" stroke-width="6.5" stroke-dasharray="3.2 2" fill="none"/>
<path vector-effect="non-scaling-stroke" d="M1022 198V808" stroke="#2a2321" stroke-width="2.4" fill="none"/>
<!-- handrail on cooler -->
<path vector-effect="non-scaling-stroke" class="dw" d="M822 905V200C825 140 850 105 890 98L1030 152V180L900 128C875 135 863 160 862 200V905C855 925 830 925 822 905Z"/>
<!-- mesh area -->
<path vector-effect="non-scaling-stroke" class="dw" d="M1208 720L1690 520V560L1208 765Z"/>
<path vector-effect="non-scaling-stroke" class="d" d="M1208 745L1690 542"/>
</g>
<path d="M1779.3 1076.5L1871.8 1040.7V1143L1779.3 1182.5Z" fill="url(#meshT)" stroke="#1d1715" stroke-width="1.2"/>
<path d="M1779.3 1076.5L1871.8 1040.7" stroke="#2a2321" stroke-width="1.3" fill="none"/>
<path d="M1780 1064.8L1874 1025.6" stroke="#2a2321" stroke-width="4.6" stroke-dasharray="3.4 1.4" fill="none"/>

<g transform="translate(1540 1040) scale(0.19732)">
<!-- post lower part -->
<path d="M1030 -10V1000L1118 1035L1208 995V-10Z" fill="#fff" stroke="none"/>
<path vector-effect="non-scaling-stroke" class="d" d="M1030 -10V1000L1118 1035L1208 995V-10"/>
<path vector-effect="non-scaling-stroke" class="d" d="M1118 -10V1035"/>
<g fill="#2a2321"><circle cx="1045" cy="160" r="6"/><circle cx="1100" cy="185" r="6"/><circle cx="1045" cy="225" r="6"/><circle cx="1100" cy="250" r="6"/><circle cx="2040" cy="85" r="7"/><circle cx="2040" cy="230" r="7"/></g>
<!-- right handrail leg -->
<path d="M1690 20V770C1700 790 1722 790 1730 770V5Z" fill="#fff" stroke="none"/>
<path vector-effect="non-scaling-stroke" class="d" d="M1690 22V770C1700 790 1722 790 1730 770V8"/>
<path vector-effect="non-scaling-stroke" class="d" d="M1760 -10V490L2040 610 M1780 450L2090 580 M1985 -10V380L2080 420 M2000 270L2075 300"/>
<path vector-effect="non-scaling-stroke" class="dw" d="M2092 -10L2105 600C2110 615 2135 615 2140 598L2125 -10Z"/>
<!-- headlight guard -->
<path vector-effect="non-scaling-stroke" class="dw" style="stroke-width:2" d="M1335 1068L1860 850C1875 845 1885 852 1886 868L1888 1180C1888 1195 1880 1205 1868 1210L1340 1428C1325 1433 1314 1425 1314 1410L1312 1100C1312 1085 1320 1074 1335 1068Z"/>
<path vector-effect="non-scaling-stroke" class="d" d="M1345 1095L1850 885C1858 882 1862 886 1862 894L1864 1172C1864 1180 1860 1186 1852 1190L1352 1396C1342 1400 1338 1396 1338 1386L1336 1110C1336 1102 1340 1098 1345 1095Z"/>
<path vector-effect="non-scaling-stroke" class="g" style="stroke:#4a4340" d="M1500 1060C1490 1064 1488 1072 1488 1082L1492 1275C1492 1288 1500 1292 1512 1288L1790 1172C1802 1166 1806 1158 1806 1146L1802 950C1802 938 1794 932 1782 937Z M1390 1100C1368 1110 1358 1160 1360 1230C1362 1300 1374 1340 1394 1335C1416 1328 1428 1270 1426 1205C1424 1140 1412 1092 1390 1100Z M1580 1020L1700 1300 M1630 1000L1750 1280 M1760 1030C1762 1015 1778 1010 1784 1018L1786 1040L1768 1060Z"/>
<g stroke="#2a2321" stroke-width="3.2" fill="none">
<path vector-effect="non-scaling-stroke" d="M1322 1150L1905 910 M1322 1220L1905 980 M1322 1290L1905 1050 M1322 1355L1905 1115"/>
</g>
<g stroke="#fff" stroke-width="1" fill="none">
<path vector-effect="non-scaling-stroke" d="M1322 1150L1905 910 M1322 1220L1905 980 M1322 1290L1905 1050 M1322 1355L1905 1115"/>
</g>
<g fill="#2a2321"><circle cx="1905" cy="912" r="8"/><circle cx="1905" cy="982" r="8"/><circle cx="1905" cy="1052" r="8"/><circle cx="1905" cy="1117" r="8"/><circle cx="1875" cy="880" r="5"/><circle cx="1875" cy="1170" r="5"/><circle cx="1325" cy="1110" r="5"/></g>
</g>

<!-- 34_truck_grille.svgf -->
<g id="truck_grille">
<path class="d"  d="M1976.2 1005.3L2463.5 803.3"/>
<path class="d"  d="M1976.2 1005.3L1980.0 1157.6"/>
<path class="dw" d="M2008.2 1007.9Q2008.2 998.9 2016.5 995.4L2431.2 821.2Q2439.5 817.7 2439.9 826.7L2445.5 943.4Q2445.9 952.4 2437.6 955.9L2015.9 1134.8Q2007.6 1138.3 2007.6 1129.3Z"/>
<path class="g" style="stroke:#4a4340" d="M2012.1 1011.3Q2012.1 1004.3 2018.5 1001.6L2429.8 827.5Q2436.3 824.8 2436.6 831.8L2441.4 942.2Q2441.7 949.2 2435.3 951.9L2017.9 1129.2Q2011.5 1131.9 2011.5 1124.9Z"/>
<path class="d"  d="M2463.5 803.3L2477.9 949.2L2445.9 963.6"/>
<path class="g"  d="M2439.5 817.7L2433.1 820.3L2437.2 814.5"/>
<path d="M2021.2 1022.6Q2021.2 1018.1 2025.3 1016.3L2115.6 977.1Q2119.7 975.3 2119.7 979.8L2119.7 988.9Q2119.7 993.4 2115.6 995.2L2025.3 1034.5Q2021.2 1036.3 2021.2 1031.8Z" fill="#fff" stroke="#1c1614" stroke-width="2.3"/>
<path d="M2024.4 1023.1Q2024.4 1020.1 2027.1 1018.8L2113.8 978.5Q2116.5 977.2 2116.5 980.2L2116.5 988.5Q2116.5 991.5 2113.8 992.7L2027.1 1033.1Q2024.4 1034.3 2024.4 1031.3Z" fill="none" stroke="#1c1614" stroke-width="1.1"/>
<path d="M2020.0 1060.0Q2020.0 1055.5 2024.1 1053.7L2114.4 1014.5Q2118.6 1012.7 2118.6 1017.2L2118.6 1026.3Q2118.6 1030.8 2114.4 1032.6L2024.1 1071.8Q2020.0 1073.6 2020.0 1069.1Z" fill="#fff" stroke="#1c1614" stroke-width="2.3"/>
<path d="M2023.2 1060.4Q2023.2 1057.4 2025.9 1056.2L2112.6 1015.8Q2115.4 1014.6 2115.4 1017.6L2115.4 1025.9Q2115.4 1028.9 2112.6 1030.1L2025.9 1070.4Q2023.2 1071.7 2023.2 1068.7Z" fill="none" stroke="#1c1614" stroke-width="1.1"/>
<path d="M2018.4 1097.4Q2018.4 1092.9 2022.6 1091.1L2113.3 1051.6Q2117.4 1049.8 2117.4 1054.3L2117.4 1064.6Q2117.4 1069.1 2113.3 1070.9L2022.6 1110.3Q2018.4 1112.1 2018.4 1107.6Z" fill="#fff" stroke="#1c1614" stroke-width="2.3"/>
<path d="M2021.6 1097.8Q2021.6 1094.8 2024.4 1093.5L2111.5 1053.0Q2114.2 1051.8 2114.2 1054.8L2114.2 1064.2Q2114.2 1067.2 2111.5 1068.4L2024.4 1109.0Q2021.6 1110.2 2021.6 1107.2Z" fill="none" stroke="#1c1614" stroke-width="1.1"/>
<path d="M2130.3 973.9Q2130.3 969.4 2134.5 967.7L2213.0 933.5Q2217.1 931.7 2217.1 936.2L2217.1 945.3Q2217.1 949.8 2213.0 951.6L2134.5 985.8Q2130.3 987.6 2130.3 983.1Z" fill="#fff" stroke="#1c1614" stroke-width="2.3"/>
<path d="M2133.5 974.4Q2133.5 971.4 2136.2 970.1L2211.2 934.9Q2213.9 933.6 2213.9 936.6L2213.9 944.9Q2213.9 947.9 2211.2 949.2L2136.2 984.4Q2133.5 985.6 2133.5 982.6Z" fill="none" stroke="#1c1614" stroke-width="1.1"/>
<path d="M2128.7 1011.3Q2128.7 1006.8 2132.9 1005.0L2186.9 981.5Q2191.0 979.7 2191.0 984.2L2191.0 994.5Q2191.0 999.0 2186.9 1000.8L2132.9 1024.3Q2128.7 1026.1 2128.7 1021.6Z" fill="#fff" stroke="#1c1614" stroke-width="2.3"/>
<path d="M2131.9 1011.7Q2131.9 1008.7 2134.6 1007.4L2185.1 983.0Q2187.8 981.6 2187.8 984.6L2187.8 994.1Q2187.8 997.1 2185.1 998.4L2134.6 1022.8Q2131.9 1024.2 2131.9 1021.2Z" fill="none" stroke="#1c1614" stroke-width="1.1"/>
<path d="M2127.2 1049.8Q2127.2 1045.3 2131.3 1043.5L2213.0 1008.0Q2217.1 1006.2 2217.1 1010.7L2217.1 1021.0Q2217.1 1025.5 2213.0 1027.3L2131.3 1062.8Q2127.2 1064.6 2127.2 1060.1Z" fill="#fff" stroke="#1c1614" stroke-width="2.3"/>
<path d="M2130.4 1050.2Q2130.4 1047.2 2133.1 1046.0L2211.2 1009.4Q2213.9 1008.1 2213.9 1011.1L2213.9 1020.5Q2213.9 1023.5 2211.2 1024.8L2133.1 1061.4Q2130.4 1062.7 2130.4 1059.7Z" fill="none" stroke="#1c1614" stroke-width="1.1"/>
<path d="M2229.5 931.2Q2229.5 926.7 2233.6 924.9L2315.1 889.5Q2319.2 887.7 2319.2 892.2L2319.2 905.6Q2319.2 910.1 2315.1 911.9L2233.6 947.4Q2229.5 949.2 2229.5 944.7Z" fill="#fff" stroke="#1c1614" stroke-width="2.3"/>
<path d="M2232.7 931.6Q2232.7 928.6 2235.4 927.4L2313.3 890.9Q2316.0 889.6 2316.0 892.6L2316.0 905.2Q2316.0 908.2 2313.3 909.5L2235.4 946.0Q2232.7 947.2 2232.7 944.2Z" fill="none" stroke="#1c1614" stroke-width="1.1"/>
<path d="M2227.9 1006.6Q2227.9 1002.1 2232.0 1000.3L2313.5 964.8Q2317.6 963.0 2317.6 967.5L2317.6 981.0Q2317.6 985.5 2313.5 987.3L2232.0 1022.7Q2227.9 1024.5 2227.9 1020.0Z" fill="#fff" stroke="#1c1614" stroke-width="2.3"/>
<path d="M2231.1 1007.0Q2231.1 1004.0 2233.8 1002.7L2311.7 966.2Q2314.4 964.9 2314.4 967.9L2314.4 980.5Q2314.4 983.5 2311.7 984.8L2233.8 1021.3Q2231.1 1022.6 2231.1 1019.6Z" fill="none" stroke="#1c1614" stroke-width="1.1"/>
<path d="M2330.5 887.9Q2330.5 883.4 2334.6 881.6L2425.7 842.0Q2429.9 840.2 2429.9 844.7L2429.9 858.1Q2429.9 862.6 2425.7 864.4L2334.6 904.1Q2330.5 905.9 2330.5 901.4Z" fill="#fff" stroke="#1c1614" stroke-width="2.3"/>
<path d="M2333.7 888.4Q2333.7 885.4 2336.4 884.1L2423.9 843.4Q2426.7 842.1 2426.7 845.1L2426.7 857.7Q2426.7 860.7 2423.9 862.0L2336.4 902.7Q2333.7 904.0 2333.7 901.0Z" fill="none" stroke="#1c1614" stroke-width="1.1"/>
<path d="M2328.9 924.8Q2328.9 920.3 2333.0 918.5L2424.1 878.9Q2428.3 877.1 2428.3 881.6L2428.3 895.0Q2428.3 899.5 2424.1 901.3L2333.0 941.0Q2328.9 942.8 2328.9 938.3Z" fill="#fff" stroke="#1c1614" stroke-width="2.3"/>
<path d="M2332.1 925.2Q2332.1 922.2 2334.8 921.0L2422.3 880.3Q2425.1 879.0 2425.1 882.0L2425.1 894.6Q2425.1 897.6 2422.3 898.9L2334.8 939.6Q2332.1 940.8 2332.1 937.8Z" fill="none" stroke="#1c1614" stroke-width="1.1"/>
<path d="M2327.3 963.3Q2327.3 958.8 2331.4 957.0L2422.5 917.3Q2426.6 915.5 2426.6 920.0L2426.6 933.5Q2426.6 938.0 2422.5 939.8L2331.4 979.4Q2327.3 981.2 2327.3 976.7Z" fill="#fff" stroke="#1c1614" stroke-width="2.3"/>
<path d="M2330.5 963.7Q2330.5 960.7 2333.2 959.4L2420.7 918.7Q2423.4 917.5 2423.4 920.5L2423.4 933.1Q2423.4 936.1 2420.7 937.3L2333.2 978.0Q2330.5 979.3 2330.5 976.3Z" fill="none" stroke="#1c1614" stroke-width="1.1"/>
<path d="M2256.7 956.9Q2256.7 952.4 2260.8 950.6L2313.5 927.7Q2317.6 925.9 2317.6 930.4L2317.6 940.6Q2317.6 945.1 2313.5 946.9L2260.8 969.8Q2256.7 971.6 2256.7 967.1Z" fill="#fff" stroke="#1c1614" stroke-width="2.3"/>
<path d="M2259.9 957.3Q2259.9 954.3 2262.6 953.0L2311.7 929.1Q2314.4 927.8 2314.4 930.8L2314.4 940.2Q2314.4 943.2 2311.7 944.5L2262.6 968.4Q2259.9 969.7 2259.9 966.7Z" fill="none" stroke="#1c1614" stroke-width="1.1"/>
<path class="g"  d="M2092.5 984.2L2116.3 994.4"/>
<path class="g"  d="M2028.0 1046.5L2109.5 1080.4"/>
<path class="g"  d="M2030.2 1049.9L2107.2 1081.6"/>
<path class="g"  d="M2136.7 966.0L2159.3 976.2"/>
<path class="g"  d="M2134.4 1005.7L2157.1 1014.7L2186.5 1002.3"/>
<path class="g"  d="M2161.6 994.4L2186.5 1005.7"/>
<path class="g"  d="M2172.9 1026.1L2204.6 1014.7"/>
<ellipse class="d" cx="2172.9" cy="1032.9" rx="3.4" ry="4.4"/>
<path class="g"  d="M2235.2 1003.4L2254.5 999.3L2259.0 993.2L2243.1 996.6L2235.2 1003.4L2235.9 1014.7"/>
<path d="M2128.7 1115.6Q2128.7 1112.1 2132.0 1110.7L2221.8 1071.7Q2225.0 1070.3 2225.0 1073.8L2225.0 1081.5Q2225.0 1085.0 2221.8 1086.4L2132.0 1125.5Q2128.7 1126.9 2128.7 1123.4Z" fill="#fff" stroke="#3a3330" stroke-width="1.5"/>
<path d="M2127.1 1114.4Q2127.1 1109.9 2131.3 1108.1L2222.5 1068.5Q2226.6 1066.7 2226.6 1071.2L2226.6 1081.3Q2226.6 1085.8 2222.5 1087.6L2131.3 1127.3Q2127.1 1129.1 2127.1 1124.6Z" fill="none" stroke="#8a8482" stroke-width="1"/>
<path d="M2128.7 1148.5Q2128.7 1145.0 2132.0 1143.6L2221.8 1104.5Q2225.0 1103.1 2225.0 1106.6L2225.0 1115.5Q2225.0 1119.0 2221.8 1120.4L2132.0 1159.4Q2128.7 1160.8 2128.7 1157.3Z" fill="#fff" stroke="#3a3330" stroke-width="1.5"/>
<path d="M2127.1 1147.3Q2127.1 1142.8 2131.3 1141.0L2222.5 1101.3Q2226.6 1099.5 2226.6 1104.0L2226.6 1115.3Q2226.6 1119.8 2222.5 1121.6L2131.3 1161.2Q2127.1 1163.0 2127.1 1158.5Z" fill="none" stroke="#8a8482" stroke-width="1"/>
<path d="M2019.3 1167.7Q2019.3 1164.2 2022.6 1162.8L2114.2 1123.0Q2117.4 1121.6 2117.4 1125.1L2117.4 1129.9Q2117.4 1133.4 2114.2 1134.7L2022.6 1174.6Q2019.3 1176.0 2019.3 1172.5Z" fill="#fff" stroke="#3a3330" stroke-width="1.5"/>
<path d="M2017.7 1166.5Q2017.7 1162.0 2021.9 1160.2L2114.9 1119.8Q2119.0 1118.0 2119.0 1122.5L2119.0 1129.7Q2119.0 1134.2 2114.9 1136.0L2021.9 1176.4Q2017.7 1178.2 2017.7 1173.7Z" fill="none" stroke="#8a8482" stroke-width="1"/>
<path d="M2019.3 1201.7Q2019.3 1198.2 2022.6 1196.8L2114.2 1156.9Q2117.4 1155.5 2117.4 1159.0L2117.4 1163.8Q2117.4 1167.3 2114.2 1168.7L2022.6 1208.6Q2019.3 1210.0 2019.3 1206.5Z" fill="#fff" stroke="#3a3330" stroke-width="1.5"/>
<path d="M2017.7 1200.5Q2017.7 1196.0 2021.9 1194.2L2114.9 1153.8Q2119.0 1152.0 2119.0 1156.5L2119.0 1163.6Q2119.0 1168.1 2114.9 1169.9L2021.9 1210.4Q2017.7 1212.2 2017.7 1207.7Z" fill="none" stroke="#8a8482" stroke-width="1"/>
<path class="g"  d="M2132.1 1143.9L2161.6 1134.8L2163.9 1139.3L2134.4 1151.8"/>
<ellipse class="g" cx="2147.5" cy="1139.8" rx="3.6" ry="3.6"/>
<path class="g"  d="M2195.6 1118.9L2206.9 1122.3L2220.5 1116.7"/>
<path class="g"  d="M2073.3 1168.8L2082.3 1173.3L2095.9 1160.8"/>
<path class="d"  d="M1965.7 1252.1L2480.0 1035.1"/>
<path class="g" d="M1919.5 1308.9L2509.5 1060.4"/>
<path class="d"  d="M1960.0 1157.9L1966.8 1157.4L1966.8 1252.1"/>
<path class="g"  d="M1962.7 1157.9L1962.7 1253.7"/>
<path class="d"  d="M1966.8 1157.4L1977.0 1152.9L1973.6 1005.7L1997.4 995.5"/>
<path class="d"  d="M1977.0 1152.9L2012.1 1138.2"/>
<path class="g"  d="M2161.6 1168.8L2162.0 1176.7"/>
<path class="g"  d="M2320.1 1104.2L2319.7 1108.7"/>
<path class="g"  d="M2116.3 1190.3L2127.6 1185.8L2128.7 1188.0L2118.6 1192.5"/>
<path class="g"  d="M2211.4 1150.6L2231.8 1142.0L2235.2 1145.0L2213.7 1154.0"/>
<path class="g"  d="M2006.4 1236.7L2028.0 1227.7L2014.4 1240.1"/>
<path class="dw" style="stroke-width:1.4" d="M2150.3 1229.9L2241.7 1191.1C2251.7 1187.5 2251.7 1205.9 2239.7 1212.3L2150.3 1250.3Z"/>
<path class="dw" style="stroke-width:1.4" d="M2150.3 1270.7L2241.7 1231.9C2251.7 1228.3 2251.7 1246.7 2239.7 1253.1L2150.3 1291.1Z"/>
<path class="dw" style="stroke-width:1.4" d="M2049.3 1273.3L2136.7 1236.1V1256.9L2045.3 1295.7C2035.3 1299.3 2036.3 1279.1 2049.3 1273.3Z"/>
<path class="dw" style="stroke-width:1.4" d="M2049.3 1314.1L2136.7 1276.9V1297.7L2045.3 1336.5C2035.3 1340.1 2036.3 1319.9 2049.3 1314.1Z"/>
<path class="g" d="M2056.3 1273.0V1293.3"/>
<path class="d"  d="M2376.8 1146.1L2418.7 1130.3L2419.8 1163.1L2377.9 1181.2L2376.8 1146.1"/>
<path class="d"  d="M2407.3 1134.8L2408.0 1167.6"/>
<path class="g"  d="M2379.0 1148.4L2407.3 1160.8"/>
<path class="g"  d="M2379.0 1179.0L2408.0 1166.5"/>
<path class="g"  d="M2397.1 1166.5L2403.9 1164.2L2409.6 1166.5L2401.7 1169.2L2397.1 1166.5"/>
<path class="dw" style="stroke-width:1.8" d="M2404.0 1005.0Q2403.9 1000.0 2408.5 998.1L2445.8 982.3Q2450.4 980.3 2450.5 985.3L2451.8 1032.4Q2452.0 1037.4 2447.4 1039.4L2409.7 1055.8Q2405.1 1057.8 2405.0 1052.8Z"/>
<path class="d" d="M2406.7 1008.6Q2406.7 1004.6 2410.3 1003.0L2443.3 988.7Q2447.0 987.1 2447.1 991.1L2448.2 1030.7Q2448.3 1034.7 2444.7 1036.3L2411.2 1051.2Q2407.6 1052.8 2407.5 1048.8Z"/>
<ellipse class="g" style="stroke:#4a4340" cx="2434.5" cy="1018.1" rx="8" ry="26"/>
<ellipse class="g" style="stroke:#4a4340" cx="2410.7" cy="1029.5" rx="6" ry="22"/>
<path d="M2405.1 1012.0L2456.0 990.3" stroke="#2a2321" stroke-width="2.6" fill="none"/>
<path d="M2405.1 1012.0L2456.0 990.3" stroke="#fff" stroke-width=".8" fill="none"/>
<path d="M2405.1 1025.2L2456.0 1003.4" stroke="#2a2321" stroke-width="2.6" fill="none"/>
<path d="M2405.1 1025.2L2456.0 1003.4" stroke="#fff" stroke-width=".8" fill="none"/>
<path d="M2405.1 1038.3L2456.0 1016.6" stroke="#2a2321" stroke-width="2.6" fill="none"/>
<path d="M2405.1 1038.3L2456.0 1016.6" stroke="#fff" stroke-width=".8" fill="none"/>
<path d="M2405.1 1051.4L2456.0 1029.7" stroke="#2a2321" stroke-width="2.6" fill="none"/>
<path d="M2405.1 1051.4L2456.0 1029.7" stroke="#fff" stroke-width=".8" fill="none"/>
<path class="d"  d="M2340.5 1085.0L2342.8 1094.0L2390.4 1073.6"/>
<path class="d"  d="M2345.1 1087.2L2349.6 1085.0"/>
</g>
<g id="calloutE"><path class="blk" d="M2266.3 943.4L2336.5 996.2L2321.4 1005Z"/>
<rect class="box" x="2324.6" y="999.8" width="74.4" height="75.2"/>
<text class="let" x="2360.4" y="1060">E</text></g>
<!-- 35_truck_ladder.svgf -->
<g id="truck_ladder">
<path class="d" d="M1803 1456.1L2506 1159.6C2510 1157.6 2512.8 1155 2512.8 1150V1064C2512.6 1058 2510 1054.6 2506.8 1052.2L2477 1041.4"/>
<path class="g" d="M2509.5 1059L2512.6 1062"/>
<path class="g"  d="M2020.9 1364.5L2024.4 1366.2L2034.8 1363.1L2039.0 1359.7"/>
<path class="g"  d="M2231.4 1273.9L2235.5 1276.4L2245.3 1273.2L2248.1 1269.8"/>
<path class="d"  d="M2011.8 1369.4L2025.8 1405.6"/>
<path class="d"  d="M2018.8 1366.2L2034.8 1409.8"/>
<path class="d"  d="M2210.5 1283.7L2219.5 1306.0"/>
<path class="d"  d="M2217.4 1280.9L2225.8 1300.4"/>
<path class="dw"  d="M2034.8 1402.2L2049.5 1396.3L2052.7 1399.4L2051.6 1404.3L2036.5 1410.2"/>
<circle class="dw" cx="2028.6" cy="1408.0" r="3.9"/>
<circle class="dw" cx="2028.3" cy="1407.7" r="2.9"/>
<path class="dw"  d="M2083.6 1363.8L2282.9 1280.9L2286.0 1283.7L2285.7 1287.9L2086.4 1372.9Z"/>
<ellipse class="dw" cx="2084.0" cy="1368.4" rx="2.9" ry="4.6" transform="rotate(-22 2084.0 1368.4)"/>
<ellipse class="d" cx="2084.0" cy="1368.4" rx="1.4" ry="2.3" transform="rotate(-22 2084.0 1368.4)"/>
<path class="dw"  d="M2271.4 1293.5L2232.3 1338.0L2211.1 1338.0L2250.1 1292.4Z"/>
<path class="d"  d="M2265.0 1293.8L2226.0 1338.0"/>
<path class="dw" d="M2260.3 1291.3C2262.0 1283.4 2269.6 1282.7 2271.7 1293.8C2270.3 1284.8 2264.0 1285.5 2264.7 1293.5"/>
<path class="dw"  d="M2253.2 1301.2L2214.1 1345.6L2192.9 1345.6L2231.9 1300.1Z"/>
<path class="d"  d="M2246.8 1301.4L2207.8 1345.6"/>
<path class="dw" d="M2242.1 1298.9C2243.8 1291.0 2251.4 1290.3 2253.5 1301.4C2252.1 1292.4 2245.9 1293.1 2246.6 1301.2"/>
<path class="dw"  d="M2235.1 1308.8L2195.9 1353.3L2174.7 1353.3L2213.7 1307.7Z"/>
<path class="d"  d="M2228.6 1309.1L2189.6 1353.3"/>
<path class="dw" d="M2223.9 1306.6C2225.6 1298.6 2233.2 1297.9 2235.3 1309.1C2233.9 1300.0 2227.7 1300.7 2228.4 1308.8"/>
<path class="dw"  d="M2216.9 1316.4L2177.7 1360.9L2156.5 1360.9L2195.5 1315.3Z"/>
<path class="d"  d="M2210.5 1316.7L2171.4 1360.9"/>
<path class="dw" d="M2205.7 1314.2C2207.4 1306.2 2215.1 1305.5 2217.1 1316.7C2215.7 1307.6 2209.5 1308.3 2210.2 1316.4"/>
<path class="dw"  d="M2198.7 1324.0L2159.5 1368.5L2138.3 1368.5L2177.4 1322.9Z"/>
<path class="d"  d="M2192.3 1324.3L2153.2 1368.5"/>
<path class="dw" d="M2187.5 1321.8C2189.2 1313.9 2196.9 1313.2 2199.0 1324.3C2197.6 1315.3 2191.3 1316.0 2192.0 1324.0"/>
<path class="dw"  d="M2180.5 1331.7L2141.3 1376.1L2120.1 1376.1L2159.2 1330.6Z"/>
<path class="d"  d="M2174.1 1331.9L2135.1 1376.1"/>
<path class="dw" d="M2169.3 1329.4C2171.0 1321.5 2178.7 1320.8 2180.8 1331.9C2179.4 1322.9 2173.1 1323.6 2173.8 1331.7"/>
<path class="dw"  d="M2162.3 1339.3L2123.1 1383.7L2102.0 1383.7L2141.0 1338.2Z"/>
<path class="d"  d="M2155.9 1339.6L2116.9 1383.7"/>
<path class="dw" d="M2151.1 1337.1C2152.8 1329.1 2160.5 1328.4 2162.6 1339.6C2161.2 1330.5 2154.9 1331.2 2155.6 1339.3"/>
<path class="dw"  d="M2144.1 1346.9L2104.9 1391.4L2083.8 1391.4L2122.8 1345.8Z"/>
<path class="d"  d="M2137.7 1347.2L2098.7 1391.4"/>
<path class="dw" d="M2133.0 1344.7C2134.6 1336.7 2142.3 1336.0 2144.4 1347.2C2143.0 1338.1 2136.7 1338.8 2137.4 1346.9"/>
<path class="dw"  d="M2125.9 1354.5L2086.8 1399.0L2065.6 1399.0L2104.6 1353.4Z"/>
<path class="d"  d="M2119.5 1354.8L2080.5 1399.0"/>
<path class="dw" d="M2114.8 1352.3C2116.4 1344.4 2124.1 1343.7 2126.2 1354.8C2124.8 1345.8 2118.5 1346.5 2119.2 1354.5"/>
<path class="dw"  d="M2107.7 1362.2L2068.6 1406.6L2047.4 1406.6L2086.4 1361.0Z"/>
<path class="d"  d="M2101.3 1362.4L2062.3 1406.6"/>
<path class="dw" d="M2096.6 1359.9C2098.3 1352.0 2105.9 1351.3 2108.0 1362.4C2106.6 1353.4 2100.3 1354.1 2101.0 1362.2"/>
<path class="d"  d="M2044.6 1395.9L2048.1 1393.1L2061.3 1391.7L2063.4 1385.4L2068.3 1384.7"/>
<path class="g"  d="M2057.1 1391.0L2065.5 1386.1"/>
</g>
<g id="calloutC_truck"><path class="blk" d="M1901.8 1411.5L1909.6 1495H1893.8Z"/>
<rect class="box" x="1863.7" y="1496.9" width="74.8" height="74.7"/>
<text class="let" x="1900.8" y="1557">C</text></g>
<text x="2186.6" y="1781.8" font-size="39.5" fill="#000" textLength="349" lengthAdjust="spacing">N2111-2721010287</text>
<!-- 50_labelsA.svgf -->
<g id="labelsA">
<!-- number labels -->
<text class="num" x="503.4" y="224">1</text>
<text class="num" x="613.8" y="275">2</text>
<text class="num" x="780.7" y="327.4">3</text>
<text class="num" x="782.1" y="364">4</text>
<text class="num" x="817.7" y="415">5</text>
<text class="num" x="613.8" y="470">6</text>
<text class="num" x="408.2" y="634.3">7</text>
<text class="num" x="269.9" y="564.4">8</text>
<text class="num" x="212.7" y="588">9</text>
<text class="num" x="112.3" y="638.8">10</text>
<text class="num" x="66.6" y="524.5">11</text>
<text class="num" x="438.9" y="703.6">12</text>
<text class="num" x="671.8" y="706">13</text>
<text class="num" x="276.4" y="841">14</text>
<text class="num" x="175" y="937.3">15</text>
<text class="num" x="422" y="1013">16</text>
<text class="num" x="691.4" y="903.5">17</text>
<text class="num" x="607.1" y="796.2">18</text>
<text class="num" x="512.2" y="965.5">19</text>
<text class="num" x="511.2" y="1525.8">20</text>
<text class="num" x="513.2" y="1587.6">21</text>
<!-- leaders -->
<path class="k" d="M503.4 237.3V288.7 M613.8 288.7V340 M613.8 382.5V430.6 M707.2 315.6H759 M709.1 352.4H760.9 M744.2 402.9H796 M334.4 622.8H386.2 M269.8 578.3V629.5 M213.1 601.3V653.4 M112.1 652.5V703.8 M68.4 537.9V589.2 M470.6 691H520 M588 694.2H639.6 M275.3 753.6V801 M206.6 925.5H255.4 M421.5 1026.5V1078.7 M691 916.5V968 M606.6 808.6V860 M544 954H597 M543.9 1513.6H597.4 M547.6 1575.8H598.5"/>
</g>

<!-- 90_watermark.svgf -->
<g id="watermark">
<text x="1019.5" y="928.8" font-size="79" fill="#fff" stroke="#000" stroke-width="3" stroke-linejoin="round" textLength="518" lengthAdjust="spacingAndGlyphs">woooyeah.com</text>
<text x="1068" y="913.5" font-size="35.5" fill="#0563c1" textLength="424" lengthAdjust="spacingAndGlyphs">www.supplypartstore.com</text>
</g>

</svg>
</body></html>
